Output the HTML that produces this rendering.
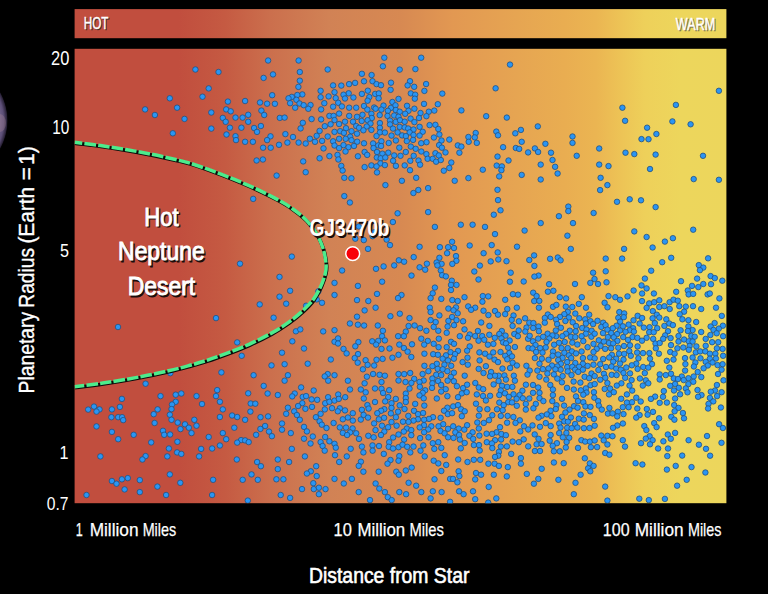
<!DOCTYPE html>
<html><head><meta charset="utf-8"><title>Hot Neptune Desert</title>
<style>
html,body{margin:0;padding:0;background:#000;}
body{width:768px;height:594px;overflow:hidden;font-family:"Liberation Sans",sans-serif;}
svg{display:block;font-family:"Liberation Sans",sans-serif;}
.d circle{fill:#2a95f4;stroke:#23507f;stroke-width:0.8}
</style></head><body>
<svg width="768" height="594" viewBox="0 0 768 594">
<defs>
<linearGradient id="g" x1="0" x2="1" y1="0" y2="0">
<stop offset="0" stop-color="#c14e3e"/>
<stop offset="0.16" stop-color="#c14e3e"/>
<stop offset="0.23" stop-color="#c55a42"/>
<stop offset="0.30" stop-color="#cb6f4d"/>
<stop offset="0.39" stop-color="#d18255"/>
<stop offset="0.50" stop-color="#d78952"/>
<stop offset="0.58" stop-color="#e29852"/>
<stop offset="0.68" stop-color="#e6a552"/>
<stop offset="0.75" stop-color="#e9ad51"/>
<stop offset="0.80" stop-color="#ebb552"/>
<stop offset="0.84" stop-color="#edc456"/>
<stop offset="0.875" stop-color="#eed05a"/>
<stop offset="0.93" stop-color="#edd65c"/>
<stop offset="1" stop-color="#ecd65c"/>
</linearGradient>
<radialGradient id="pl" cx="0.5" cy="0.5" r="0.5">
<stop offset="0" stop-color="#8a7898"/><stop offset="0.84" stop-color="#78698f"/><stop offset="0.93" stop-color="#5c4e76"/><stop offset="0.985" stop-color="#2a2238"/><stop offset="1" stop-color="#08060c"/>
</radialGradient>
<clipPath id="cp"><rect x="74.6" y="48.8" width="651.8" height="454.4"/></clipPath>
</defs>
<rect x="0" y="0" width="768" height="594" fill="#000"/>
<circle cx="-50.3" cy="120.5" r="58" fill="url(#pl)"/><ellipse cx="0" cy="123" rx="6" ry="9" fill="#b08c98" opacity="0.3"/>
<rect x="74.6" y="9.1" width="651.8" height="29.1" fill="url(#g)"/>
<rect x="74.6" y="48.8" width="651.8" height="454.4" fill="url(#g)"/>
<g clip-path="url(#cp)">
<g class="d"><circle cx="195.4" cy="69.5" r="2.75"/><circle cx="202.5" cy="96.7" r="2.75"/><circle cx="169.8" cy="98.3" r="2.75"/><circle cx="177.1" cy="107.7" r="2.75"/><circle cx="145.1" cy="109.4" r="2.75"/><circle cx="154.9" cy="115.0" r="2.75"/><circle cx="184.5" cy="118.9" r="2.75"/><circle cx="172.8" cy="133.3" r="2.75"/><circle cx="268.1" cy="60.5" r="2.75"/><circle cx="298.6" cy="60.5" r="2.75"/><circle cx="327.7" cy="69.5" r="2.75"/><circle cx="218.5" cy="72.0" r="2.75"/><circle cx="299.8" cy="72.0" r="2.75"/><circle cx="273.0" cy="74.4" r="2.75"/><circle cx="263.6" cy="77.9" r="2.75"/><circle cx="299.8" cy="80.7" r="2.75"/><circle cx="333.1" cy="85.4" r="2.75"/><circle cx="298.4" cy="86.9" r="2.75"/><circle cx="208.7" cy="88.4" r="2.75"/><circle cx="320.6" cy="90.8" r="2.75"/><circle cx="334.5" cy="92.2" r="2.75"/><circle cx="272.2" cy="95.2" r="2.75"/><circle cx="302.3" cy="94.4" r="2.75"/><circle cx="297.3" cy="95.0" r="2.75"/><circle cx="291.8" cy="96.9" r="2.75"/><circle cx="288.5" cy="98.3" r="2.75"/><circle cx="328.6" cy="96.4" r="2.75"/><circle cx="320.6" cy="97.2" r="2.75"/><circle cx="296.4" cy="99.8" r="2.75"/><circle cx="245.1" cy="101.0" r="2.75"/><circle cx="227.9" cy="101.6" r="2.75"/><circle cx="260.0" cy="102.5" r="2.75"/><circle cx="267.1" cy="103.7" r="2.75"/><circle cx="274.9" cy="103.8" r="2.75"/><circle cx="290.1" cy="103.2" r="2.75"/><circle cx="299.5" cy="103.5" r="2.75"/><circle cx="303.7" cy="105.2" r="2.75"/><circle cx="310.5" cy="105.0" r="2.75"/><circle cx="324.3" cy="103.2" r="2.75"/><circle cx="333.1" cy="106.7" r="2.75"/><circle cx="295.2" cy="107.7" r="2.75"/><circle cx="308.3" cy="108.8" r="2.75"/><circle cx="321.1" cy="109.4" r="2.75"/><circle cx="226.2" cy="109.4" r="2.75"/><circle cx="230.7" cy="111.3" r="2.75"/><circle cx="261.4" cy="110.6" r="2.75"/><circle cx="211.3" cy="112.5" r="2.75"/><circle cx="264.2" cy="115.0" r="2.75"/><circle cx="248.2" cy="114.8" r="2.75"/><circle cx="329.4" cy="115.9" r="2.75"/><circle cx="333.6" cy="115.9" r="2.75"/><circle cx="222.8" cy="117.9" r="2.75"/><circle cx="235.5" cy="117.6" r="2.75"/><circle cx="242.6" cy="117.6" r="2.75"/><circle cx="279.8" cy="117.9" r="2.75"/><circle cx="284.6" cy="117.6" r="2.75"/><circle cx="311.6" cy="119.1" r="2.75"/><circle cx="321.1" cy="119.4" r="2.75"/><circle cx="334.5" cy="120.1" r="2.75"/><circle cx="225.7" cy="121.8" r="2.75"/><circle cx="248.2" cy="121.8" r="2.75"/><circle cx="302.8" cy="122.8" r="2.75"/><circle cx="330.6" cy="124.3" r="2.75"/><circle cx="260.9" cy="126.0" r="2.75"/><circle cx="324.8" cy="126.2" r="2.75"/><circle cx="211.3" cy="128.6" r="2.75"/><circle cx="229.9" cy="127.7" r="2.75"/><circle cx="241.4" cy="127.7" r="2.75"/><circle cx="254.1" cy="128.0" r="2.75"/><circle cx="300.6" cy="128.4" r="2.75"/><circle cx="319.6" cy="130.9" r="2.75"/><circle cx="257.0" cy="131.9" r="2.75"/><circle cx="334.5" cy="131.9" r="2.75"/><circle cx="226.5" cy="134.5" r="2.75"/><circle cx="285.4" cy="134.1" r="2.75"/><circle cx="235.5" cy="136.2" r="2.75"/><circle cx="270.5" cy="136.3" r="2.75"/><circle cx="293.0" cy="137.0" r="2.75"/><circle cx="316.7" cy="135.8" r="2.75"/><circle cx="327.7" cy="136.5" r="2.75"/><circle cx="309.9" cy="138.7" r="2.75"/><circle cx="236.0" cy="140.1" r="2.75"/><circle cx="267.1" cy="140.1" r="2.75"/><circle cx="245.1" cy="141.8" r="2.75"/><circle cx="252.9" cy="141.8" r="2.75"/><circle cx="287.4" cy="142.6" r="2.75"/><circle cx="298.6" cy="142.6" r="2.75"/><circle cx="305.7" cy="143.5" r="2.75"/><circle cx="315.0" cy="141.8" r="2.75"/><circle cx="322.1" cy="140.9" r="2.75"/><circle cx="333.1" cy="141.3" r="2.75"/><circle cx="279.0" cy="144.8" r="2.75"/><circle cx="334.5" cy="145.5" r="2.75"/><circle cx="263.1" cy="147.7" r="2.75"/><circle cx="270.7" cy="147.7" r="2.75"/><circle cx="323.5" cy="148.4" r="2.75"/><circle cx="384.3" cy="57.7" r="2.75"/><circle cx="382.9" cy="66.3" r="2.75"/><circle cx="399.7" cy="69.6" r="2.75"/><circle cx="361.9" cy="73.8" r="2.75"/><circle cx="371.6" cy="75.0" r="2.75"/><circle cx="364.0" cy="81.3" r="2.75"/><circle cx="372.5" cy="81.2" r="2.75"/><circle cx="376.5" cy="84.1" r="2.75"/><circle cx="381.0" cy="85.2" r="2.75"/><circle cx="391.0" cy="82.7" r="2.75"/><circle cx="355.1" cy="82.9" r="2.75"/><circle cx="349.1" cy="84.1" r="2.75"/><circle cx="341.3" cy="85.6" r="2.75"/><circle cx="390.6" cy="89.8" r="2.75"/><circle cx="367.8" cy="90.7" r="2.75"/><circle cx="348.7" cy="93.3" r="2.75"/><circle cx="343.5" cy="94.7" r="2.75"/><circle cx="361.9" cy="93.9" r="2.75"/><circle cx="375.2" cy="93.9" r="2.75"/><circle cx="378.8" cy="93.4" r="2.75"/><circle cx="353.4" cy="97.5" r="2.75"/><circle cx="369.3" cy="97.1" r="2.75"/><circle cx="335.7" cy="98.1" r="2.75"/><circle cx="378.6" cy="98.3" r="2.75"/><circle cx="345.0" cy="98.5" r="2.75"/><circle cx="398.5" cy="98.9" r="2.75"/><circle cx="421.2" cy="57.7" r="2.75"/><circle cx="415.4" cy="69.1" r="2.75"/><circle cx="410.0" cy="81.2" r="2.75"/><circle cx="407.6" cy="85.4" r="2.75"/><circle cx="414.2" cy="86.8" r="2.75"/><circle cx="426.1" cy="84.0" r="2.75"/><circle cx="424.4" cy="90.9" r="2.75"/><circle cx="442.3" cy="93.6" r="2.75"/><circle cx="410.8" cy="93.4" r="2.75"/><circle cx="415.2" cy="94.7" r="2.75"/><circle cx="414.8" cy="98.7" r="2.75"/><circle cx="367.6" cy="100.7" r="2.75"/><circle cx="392.4" cy="102.0" r="2.75"/><circle cx="338.2" cy="102.8" r="2.75"/><circle cx="341.9" cy="106.4" r="2.75"/><circle cx="349.2" cy="107.7" r="2.75"/><circle cx="356.2" cy="107.7" r="2.75"/><circle cx="364.0" cy="106.0" r="2.75"/><circle cx="367.4" cy="109.6" r="2.75"/><circle cx="374.1" cy="107.5" r="2.75"/><circle cx="375.6" cy="108.7" r="2.75"/><circle cx="383.5" cy="105.6" r="2.75"/><circle cx="381.4" cy="109.6" r="2.75"/><circle cx="390.9" cy="107.9" r="2.75"/><circle cx="395.5" cy="105.3" r="2.75"/><circle cx="387.9" cy="110.8" r="2.75"/><circle cx="395.8" cy="110.0" r="2.75"/><circle cx="399.7" cy="111.7" r="2.75"/><circle cx="339.1" cy="113.6" r="2.75"/><circle cx="349.2" cy="115.9" r="2.75"/><circle cx="357.0" cy="116.8" r="2.75"/><circle cx="362.5" cy="114.8" r="2.75"/><circle cx="371.4" cy="113.8" r="2.75"/><circle cx="371.8" cy="118.0" r="2.75"/><circle cx="379.7" cy="115.1" r="2.75"/><circle cx="387.5" cy="115.9" r="2.75"/><circle cx="394.2" cy="115.5" r="2.75"/><circle cx="398.5" cy="116.8" r="2.75"/><circle cx="345.0" cy="121.7" r="2.75"/><circle cx="339.1" cy="124.0" r="2.75"/><circle cx="353.0" cy="121.7" r="2.75"/><circle cx="361.7" cy="121.0" r="2.75"/><circle cx="367.6" cy="120.2" r="2.75"/><circle cx="370.5" cy="123.5" r="2.75"/><circle cx="379.9" cy="123.1" r="2.75"/><circle cx="390.0" cy="120.6" r="2.75"/><circle cx="395.8" cy="121.9" r="2.75"/><circle cx="390.0" cy="124.4" r="2.75"/><circle cx="399.7" cy="126.9" r="2.75"/><circle cx="356.2" cy="126.1" r="2.75"/><circle cx="359.1" cy="127.8" r="2.75"/><circle cx="366.7" cy="126.5" r="2.75"/><circle cx="363.4" cy="130.3" r="2.75"/><circle cx="371.4" cy="129.9" r="2.75"/><circle cx="379.9" cy="127.8" r="2.75"/><circle cx="379.9" cy="132.4" r="2.75"/><circle cx="384.9" cy="132.6" r="2.75"/><circle cx="393.0" cy="128.6" r="2.75"/><circle cx="397.6" cy="132.4" r="2.75"/><circle cx="346.0" cy="128.2" r="2.75"/><circle cx="340.2" cy="131.2" r="2.75"/><circle cx="351.5" cy="131.2" r="2.75"/><circle cx="343.9" cy="132.9" r="2.75"/><circle cx="357.0" cy="133.7" r="2.75"/><circle cx="350.2" cy="136.7" r="2.75"/><circle cx="339.1" cy="138.8" r="2.75"/><circle cx="345.7" cy="138.8" r="2.75"/><circle cx="351.5" cy="140.2" r="2.75"/><circle cx="357.2" cy="141.7" r="2.75"/><circle cx="376.5" cy="136.1" r="2.75"/><circle cx="391.5" cy="135.6" r="2.75"/><circle cx="395.9" cy="140.5" r="2.75"/><circle cx="381.4" cy="141.3" r="2.75"/><circle cx="364.0" cy="143.3" r="2.75"/><circle cx="373.1" cy="143.4" r="2.75"/><circle cx="388.7" cy="143.0" r="2.75"/><circle cx="343.5" cy="145.1" r="2.75"/><circle cx="339.1" cy="148.1" r="2.75"/><circle cx="348.5" cy="147.2" r="2.75"/><circle cx="354.0" cy="146.0" r="2.75"/><circle cx="378.2" cy="145.4" r="2.75"/><circle cx="381.1" cy="146.0" r="2.75"/><circle cx="373.5" cy="148.1" r="2.75"/><circle cx="399.3" cy="147.7" r="2.75"/><circle cx="424.0" cy="103.9" r="2.75"/><circle cx="437.8" cy="104.2" r="2.75"/><circle cx="407.0" cy="105.8" r="2.75"/><circle cx="414.4" cy="108.7" r="2.75"/><circle cx="461.4" cy="110.4" r="2.75"/><circle cx="408.5" cy="110.8" r="2.75"/><circle cx="405.2" cy="113.8" r="2.75"/><circle cx="434.3" cy="110.6" r="2.75"/><circle cx="428.8" cy="111.7" r="2.75"/><circle cx="420.5" cy="113.0" r="2.75"/><circle cx="426.4" cy="116.2" r="2.75"/><circle cx="419.0" cy="118.0" r="2.75"/><circle cx="410.6" cy="118.6" r="2.75"/><circle cx="400.0" cy="120.2" r="2.75"/><circle cx="404.7" cy="121.7" r="2.75"/><circle cx="414.4" cy="122.1" r="2.75"/><circle cx="429.6" cy="125.1" r="2.75"/><circle cx="435.4" cy="124.8" r="2.75"/><circle cx="419.6" cy="126.8" r="2.75"/><circle cx="404.7" cy="127.4" r="2.75"/><circle cx="408.2" cy="128.5" r="2.75"/><circle cx="413.5" cy="129.5" r="2.75"/><circle cx="438.3" cy="129.0" r="2.75"/><circle cx="422.7" cy="131.8" r="2.75"/><circle cx="409.7" cy="132.4" r="2.75"/><circle cx="413.5" cy="135.0" r="2.75"/><circle cx="419.6" cy="135.6" r="2.75"/><circle cx="402.1" cy="135.4" r="2.75"/><circle cx="405.9" cy="136.1" r="2.75"/><circle cx="439.4" cy="134.5" r="2.75"/><circle cx="433.9" cy="137.5" r="2.75"/><circle cx="413.1" cy="139.9" r="2.75"/><circle cx="406.8" cy="141.1" r="2.75"/><circle cx="441.5" cy="140.5" r="2.75"/><circle cx="449.3" cy="139.6" r="2.75"/><circle cx="426.5" cy="142.2" r="2.75"/><circle cx="421.2" cy="143.2" r="2.75"/><circle cx="439.1" cy="145.1" r="2.75"/><circle cx="457.8" cy="145.4" r="2.75"/><circle cx="461.4" cy="146.6" r="2.75"/><circle cx="410.8" cy="146.6" r="2.75"/><circle cx="441.9" cy="147.7" r="2.75"/><circle cx="415.7" cy="148.8" r="2.75"/><circle cx="510.0" cy="64.6" r="2.75"/><circle cx="495.6" cy="88.3" r="2.75"/><circle cx="486.2" cy="116.2" r="2.75"/><circle cx="506.8" cy="117.6" r="2.75"/><circle cx="537.8" cy="126.4" r="2.75"/><circle cx="520.9" cy="129.9" r="2.75"/><circle cx="515.3" cy="133.3" r="2.75"/><circle cx="496.3" cy="131.6" r="2.75"/><circle cx="498.0" cy="135.3" r="2.75"/><circle cx="475.7" cy="133.0" r="2.75"/><circle cx="468.4" cy="137.0" r="2.75"/><circle cx="474.8" cy="137.4" r="2.75"/><circle cx="468.7" cy="141.8" r="2.75"/><circle cx="476.8" cy="142.9" r="2.75"/><circle cx="521.7" cy="141.8" r="2.75"/><circle cx="545.4" cy="143.8" r="2.75"/><circle cx="572.5" cy="136.5" r="2.75"/><circle cx="572.5" cy="142.9" r="2.75"/><circle cx="503.1" cy="147.2" r="2.75"/><circle cx="515.8" cy="148.0" r="2.75"/><circle cx="519.2" cy="148.9" r="2.75"/><circle cx="534.9" cy="148.4" r="2.75"/><circle cx="718.9" cy="90.8" r="2.75"/><circle cx="675.9" cy="104.9" r="2.75"/><circle cx="622.4" cy="107.7" r="2.75"/><circle cx="625.1" cy="120.8" r="2.75"/><circle cx="672.4" cy="121.4" r="2.75"/><circle cx="690.6" cy="124.3" r="2.75"/><circle cx="647.1" cy="127.7" r="2.75"/><circle cx="656.4" cy="134.0" r="2.75"/><circle cx="641.5" cy="139.1" r="2.75"/><circle cx="648.5" cy="139.2" r="2.75"/><circle cx="599.2" cy="148.5" r="2.75"/><circle cx="329.4" cy="156.1" r="2.75"/><circle cx="319.6" cy="158.3" r="2.75"/><circle cx="262.9" cy="159.5" r="2.75"/><circle cx="256.6" cy="160.5" r="2.75"/><circle cx="303.2" cy="161.4" r="2.75"/><circle cx="305.7" cy="172.2" r="2.75"/><circle cx="276.6" cy="175.6" r="2.75"/><circle cx="253.2" cy="198.9" r="2.75"/><circle cx="118.0" cy="327.0" r="2.75"/><circle cx="291.8" cy="256.6" r="2.75"/><circle cx="240.0" cy="263.7" r="2.75"/><circle cx="279.5" cy="276.9" r="2.75"/><circle cx="290.1" cy="290.8" r="2.75"/><circle cx="279.5" cy="296.7" r="2.75"/><circle cx="259.7" cy="304.4" r="2.75"/><circle cx="286.2" cy="303.7" r="2.75"/><circle cx="216.0" cy="318.1" r="2.75"/><circle cx="273.6" cy="317.7" r="2.75"/><circle cx="322.0" cy="302.8" r="2.75"/><circle cx="318.4" cy="291.3" r="2.75"/><circle cx="316.7" cy="299.4" r="2.75"/><circle cx="306.1" cy="305.7" r="2.75"/><circle cx="334.5" cy="282.9" r="2.75"/><circle cx="334.5" cy="295.0" r="2.75"/><circle cx="295.9" cy="331.3" r="2.75"/><circle cx="300.3" cy="329.4" r="2.75"/><circle cx="323.2" cy="331.4" r="2.75"/><circle cx="334.5" cy="330.2" r="2.75"/><circle cx="292.3" cy="341.3" r="2.75"/><circle cx="237.2" cy="342.4" r="2.75"/><circle cx="304.0" cy="348.5" r="2.75"/><circle cx="334.5" cy="341.8" r="2.75"/><circle cx="337.5" cy="154.9" r="2.75"/><circle cx="338.4" cy="159.5" r="2.75"/><circle cx="345.5" cy="151.5" r="2.75"/><circle cx="357.9" cy="156.3" r="2.75"/><circle cx="364.6" cy="152.0" r="2.75"/><circle cx="367.2" cy="154.9" r="2.75"/><circle cx="377.0" cy="152.0" r="2.75"/><circle cx="382.4" cy="153.7" r="2.75"/><circle cx="388.3" cy="152.7" r="2.75"/><circle cx="376.8" cy="157.5" r="2.75"/><circle cx="380.7" cy="158.3" r="2.75"/><circle cx="385.3" cy="157.5" r="2.75"/><circle cx="394.2" cy="155.4" r="2.75"/><circle cx="400.5" cy="155.8" r="2.75"/><circle cx="405.8" cy="152.0" r="2.75"/><circle cx="393.1" cy="160.8" r="2.75"/><circle cx="380.4" cy="163.4" r="2.75"/><circle cx="384.9" cy="165.1" r="2.75"/><circle cx="371.4" cy="165.4" r="2.75"/><circle cx="376.5" cy="166.4" r="2.75"/><circle cx="364.6" cy="167.1" r="2.75"/><circle cx="395.9" cy="165.9" r="2.75"/><circle cx="404.7" cy="165.4" r="2.75"/><circle cx="410.0" cy="170.2" r="2.75"/><circle cx="410.3" cy="160.8" r="2.75"/><circle cx="413.7" cy="155.8" r="2.75"/><circle cx="418.5" cy="160.5" r="2.75"/><circle cx="420.1" cy="164.7" r="2.75"/><circle cx="421.3" cy="151.5" r="2.75"/><circle cx="426.4" cy="154.1" r="2.75"/><circle cx="427.6" cy="158.8" r="2.75"/><circle cx="432.7" cy="158.8" r="2.75"/><circle cx="436.1" cy="161.7" r="2.75"/><circle cx="440.8" cy="160.0" r="2.75"/><circle cx="435.4" cy="153.2" r="2.75"/><circle cx="438.8" cy="155.4" r="2.75"/><circle cx="445.5" cy="152.4" r="2.75"/><circle cx="459.4" cy="152.7" r="2.75"/><circle cx="451.3" cy="162.5" r="2.75"/><circle cx="449.3" cy="168.0" r="2.75"/><circle cx="443.8" cy="170.7" r="2.75"/><circle cx="341.3" cy="165.9" r="2.75"/><circle cx="342.6" cy="170.5" r="2.75"/><circle cx="377.0" cy="172.4" r="2.75"/><circle cx="344.3" cy="177.8" r="2.75"/><circle cx="351.4" cy="178.3" r="2.75"/><circle cx="416.2" cy="177.8" r="2.75"/><circle cx="401.9" cy="180.8" r="2.75"/><circle cx="454.7" cy="180.8" r="2.75"/><circle cx="385.4" cy="185.1" r="2.75"/><circle cx="428.1" cy="188.1" r="2.75"/><circle cx="418.3" cy="190.0" r="2.75"/><circle cx="413.4" cy="193.0" r="2.75"/><circle cx="344.3" cy="196.1" r="2.75"/><circle cx="349.9" cy="202.5" r="2.75"/><circle cx="397.6" cy="213.3" r="2.75"/><circle cx="428.1" cy="212.1" r="2.75"/><circle cx="392.9" cy="222.0" r="2.75"/><circle cx="434.9" cy="226.9" r="2.75"/><circle cx="460.8" cy="224.7" r="2.75"/><circle cx="358.7" cy="226.5" r="2.75"/><circle cx="374.3" cy="232.3" r="2.75"/><circle cx="355.3" cy="238.7" r="2.75"/><circle cx="363.8" cy="240.1" r="2.75"/><circle cx="372.6" cy="236.2" r="2.75"/><circle cx="386.6" cy="239.6" r="2.75"/><circle cx="390.0" cy="245.1" r="2.75"/><circle cx="368.0" cy="248.9" r="2.75"/><circle cx="419.6" cy="246.8" r="2.75"/><circle cx="439.9" cy="247.2" r="2.75"/><circle cx="448.1" cy="247.2" r="2.75"/><circle cx="452.1" cy="241.8" r="2.75"/><circle cx="454.0" cy="248.0" r="2.75"/><circle cx="528.1" cy="152.4" r="2.75"/><circle cx="538.1" cy="152.0" r="2.75"/><circle cx="551.0" cy="152.7" r="2.75"/><circle cx="576.7" cy="155.8" r="2.75"/><circle cx="497.5" cy="156.6" r="2.75"/><circle cx="508.5" cy="160.5" r="2.75"/><circle cx="552.5" cy="160.0" r="2.75"/><circle cx="540.7" cy="164.6" r="2.75"/><circle cx="496.7" cy="165.6" r="2.75"/><circle cx="501.9" cy="166.4" r="2.75"/><circle cx="501.4" cy="170.2" r="2.75"/><circle cx="555.1" cy="166.8" r="2.75"/><circle cx="482.8" cy="169.7" r="2.75"/><circle cx="557.6" cy="173.5" r="2.75"/><circle cx="521.7" cy="174.9" r="2.75"/><circle cx="499.2" cy="176.4" r="2.75"/><circle cx="468.4" cy="178.1" r="2.75"/><circle cx="540.7" cy="179.5" r="2.75"/><circle cx="497.5" cy="189.8" r="2.75"/><circle cx="498.0" cy="200.1" r="2.75"/><circle cx="500.5" cy="210.3" r="2.75"/><circle cx="493.8" cy="214.7" r="2.75"/><circle cx="568.3" cy="206.6" r="2.75"/><circle cx="568.3" cy="211.1" r="2.75"/><circle cx="558.9" cy="216.2" r="2.75"/><circle cx="593.6" cy="213.0" r="2.75"/><circle cx="472.6" cy="224.7" r="2.75"/><circle cx="485.0" cy="226.9" r="2.75"/><circle cx="540.7" cy="223.1" r="2.75"/><circle cx="573.0" cy="223.1" r="2.75"/><circle cx="524.6" cy="230.6" r="2.75"/><circle cx="495.0" cy="234.1" r="2.75"/><circle cx="567.4" cy="235.7" r="2.75"/><circle cx="469.7" cy="245.5" r="2.75"/><circle cx="491.7" cy="245.1" r="2.75"/><circle cx="517.0" cy="246.7" r="2.75"/><circle cx="570.8" cy="248.9" r="2.75"/><circle cx="625.5" cy="152.7" r="2.75"/><circle cx="634.3" cy="154.1" r="2.75"/><circle cx="655.6" cy="154.6" r="2.75"/><circle cx="703.0" cy="155.8" r="2.75"/><circle cx="599.2" cy="164.6" r="2.75"/><circle cx="608.5" cy="166.1" r="2.75"/><circle cx="650.0" cy="169.0" r="2.75"/><circle cx="600.6" cy="177.8" r="2.75"/><circle cx="693.7" cy="179.1" r="2.75"/><circle cx="718.9" cy="179.8" r="2.75"/><circle cx="607.4" cy="185.1" r="2.75"/><circle cx="600.1" cy="190.1" r="2.75"/><circle cx="629.7" cy="199.3" r="2.75"/><circle cx="617.0" cy="201.8" r="2.75"/><circle cx="641.0" cy="200.3" r="2.75"/><circle cx="655.6" cy="207.1" r="2.75"/><circle cx="634.3" cy="231.4" r="2.75"/><circle cx="693.2" cy="229.7" r="2.75"/><circle cx="646.6" cy="237.0" r="2.75"/><circle cx="672.9" cy="238.2" r="2.75"/><circle cx="664.9" cy="241.6" r="2.75"/><circle cx="652.6" cy="247.5" r="2.75"/><circle cx="624.1" cy="248.9" r="2.75"/><circle cx="447.1" cy="253.2" r="2.75"/><circle cx="456.0" cy="256.1" r="2.75"/><circle cx="413.7" cy="257.1" r="2.75"/><circle cx="439.4" cy="257.8" r="2.75"/><circle cx="398.8" cy="260.3" r="2.75"/><circle cx="404.1" cy="261.7" r="2.75"/><circle cx="456.4" cy="260.8" r="2.75"/><circle cx="452.3" cy="263.9" r="2.75"/><circle cx="436.6" cy="262.5" r="2.75"/><circle cx="441.6" cy="263.9" r="2.75"/><circle cx="437.4" cy="265.4" r="2.75"/><circle cx="426.9" cy="263.7" r="2.75"/><circle cx="394.2" cy="265.4" r="2.75"/><circle cx="383.6" cy="266.4" r="2.75"/><circle cx="376.0" cy="268.8" r="2.75"/><circle cx="419.6" cy="267.3" r="2.75"/><circle cx="425.2" cy="269.7" r="2.75"/><circle cx="342.1" cy="270.5" r="2.75"/><circle cx="440.8" cy="270.5" r="2.75"/><circle cx="442.1" cy="275.2" r="2.75"/><circle cx="445.9" cy="276.4" r="2.75"/><circle cx="411.5" cy="275.6" r="2.75"/><circle cx="451.8" cy="280.7" r="2.75"/><circle cx="382.1" cy="281.7" r="2.75"/><circle cx="357.9" cy="285.9" r="2.75"/><circle cx="451.0" cy="284.9" r="2.75"/><circle cx="456.5" cy="284.9" r="2.75"/><circle cx="434.9" cy="287.6" r="2.75"/><circle cx="451.0" cy="290.0" r="2.75"/><circle cx="377.0" cy="293.9" r="2.75"/><circle cx="432.7" cy="293.3" r="2.75"/><circle cx="401.5" cy="295.0" r="2.75"/><circle cx="398.0" cy="298.1" r="2.75"/><circle cx="430.6" cy="298.1" r="2.75"/><circle cx="441.3" cy="298.9" r="2.75"/><circle cx="452.3" cy="300.1" r="2.75"/><circle cx="457.7" cy="301.0" r="2.75"/><circle cx="464.5" cy="297.2" r="2.75"/><circle cx="357.0" cy="300.1" r="2.75"/><circle cx="368.3" cy="301.0" r="2.75"/><circle cx="375.6" cy="307.7" r="2.75"/><circle cx="429.8" cy="307.7" r="2.75"/><circle cx="448.4" cy="308.6" r="2.75"/><circle cx="456.0" cy="307.4" r="2.75"/><circle cx="453.5" cy="310.3" r="2.75"/><circle cx="364.6" cy="310.4" r="2.75"/><circle cx="430.6" cy="312.1" r="2.75"/><circle cx="457.7" cy="313.3" r="2.75"/><circle cx="399.8" cy="313.7" r="2.75"/><circle cx="439.4" cy="315.4" r="2.75"/><circle cx="390.4" cy="316.2" r="2.75"/><circle cx="357.0" cy="316.7" r="2.75"/><circle cx="452.1" cy="317.0" r="2.75"/><circle cx="409.5" cy="318.1" r="2.75"/><circle cx="430.6" cy="320.1" r="2.75"/><circle cx="435.7" cy="322.1" r="2.75"/><circle cx="448.4" cy="320.9" r="2.75"/><circle cx="456.5" cy="320.1" r="2.75"/><circle cx="463.1" cy="321.3" r="2.75"/><circle cx="349.9" cy="323.5" r="2.75"/><circle cx="357.9" cy="324.7" r="2.75"/><circle cx="364.1" cy="325.5" r="2.75"/><circle cx="377.8" cy="325.5" r="2.75"/><circle cx="408.6" cy="326.0" r="2.75"/><circle cx="414.6" cy="325.5" r="2.75"/><circle cx="420.1" cy="328.2" r="2.75"/><circle cx="433.7" cy="326.9" r="2.75"/><circle cx="447.6" cy="326.5" r="2.75"/><circle cx="454.0" cy="325.2" r="2.75"/><circle cx="382.9" cy="330.8" r="2.75"/><circle cx="426.4" cy="330.8" r="2.75"/><circle cx="438.3" cy="330.8" r="2.75"/><circle cx="405.8" cy="331.6" r="2.75"/><circle cx="446.7" cy="332.8" r="2.75"/><circle cx="464.5" cy="329.4" r="2.75"/><circle cx="382.1" cy="336.2" r="2.75"/><circle cx="398.1" cy="336.2" r="2.75"/><circle cx="403.9" cy="336.2" r="2.75"/><circle cx="459.8" cy="336.2" r="2.75"/><circle cx="338.0" cy="338.4" r="2.75"/><circle cx="421.3" cy="338.7" r="2.75"/><circle cx="438.8" cy="338.7" r="2.75"/><circle cx="372.2" cy="341.3" r="2.75"/><circle cx="378.2" cy="340.9" r="2.75"/><circle cx="384.9" cy="340.4" r="2.75"/><circle cx="358.4" cy="342.1" r="2.75"/><circle cx="427.8" cy="340.9" r="2.75"/><circle cx="451.0" cy="341.8" r="2.75"/><circle cx="338.0" cy="343.5" r="2.75"/><circle cx="376.1" cy="344.6" r="2.75"/><circle cx="399.3" cy="344.6" r="2.75"/><circle cx="412.0" cy="344.3" r="2.75"/><circle cx="424.2" cy="344.6" r="2.75"/><circle cx="433.7" cy="343.8" r="2.75"/><circle cx="355.3" cy="346.3" r="2.75"/><circle cx="454.0" cy="343.8" r="2.75"/><circle cx="438.6" cy="347.2" r="2.75"/><circle cx="446.7" cy="347.2" r="2.75"/><circle cx="403.9" cy="348.0" r="2.75"/><circle cx="381.5" cy="348.9" r="2.75"/><circle cx="389.5" cy="348.5" r="2.75"/><circle cx="343.5" cy="348.9" r="2.75"/><circle cx="483.6" cy="253.2" r="2.75"/><circle cx="497.7" cy="252.4" r="2.75"/><circle cx="534.1" cy="255.4" r="2.75"/><circle cx="498.3" cy="259.5" r="2.75"/><circle cx="490.7" cy="261.4" r="2.75"/><circle cx="506.5" cy="261.2" r="2.75"/><circle cx="529.3" cy="260.0" r="2.75"/><circle cx="550.1" cy="258.8" r="2.75"/><circle cx="557.8" cy="257.5" r="2.75"/><circle cx="560.6" cy="260.3" r="2.75"/><circle cx="479.9" cy="265.6" r="2.75"/><circle cx="534.4" cy="265.9" r="2.75"/><circle cx="474.3" cy="271.5" r="2.75"/><circle cx="510.7" cy="272.7" r="2.75"/><circle cx="593.1" cy="272.7" r="2.75"/><circle cx="538.6" cy="275.6" r="2.75"/><circle cx="534.4" cy="276.6" r="2.75"/><circle cx="478.5" cy="279.5" r="2.75"/><circle cx="509.9" cy="281.7" r="2.75"/><circle cx="523.7" cy="281.5" r="2.75"/><circle cx="594.5" cy="279.0" r="2.75"/><circle cx="549.1" cy="284.2" r="2.75"/><circle cx="575.0" cy="284.0" r="2.75"/><circle cx="590.3" cy="282.9" r="2.75"/><circle cx="547.9" cy="291.7" r="2.75"/><circle cx="553.4" cy="290.8" r="2.75"/><circle cx="533.2" cy="292.7" r="2.75"/><circle cx="512.9" cy="294.2" r="2.75"/><circle cx="518.0" cy="294.7" r="2.75"/><circle cx="536.6" cy="296.1" r="2.75"/><circle cx="482.8" cy="296.1" r="2.75"/><circle cx="488.2" cy="296.4" r="2.75"/><circle cx="559.8" cy="297.2" r="2.75"/><circle cx="566.1" cy="298.4" r="2.75"/><circle cx="581.8" cy="297.2" r="2.75"/><circle cx="482.4" cy="301.7" r="2.75"/><circle cx="505.2" cy="299.8" r="2.75"/><circle cx="468.2" cy="306.4" r="2.75"/><circle cx="475.2" cy="307.7" r="2.75"/><circle cx="471.1" cy="309.8" r="2.75"/><circle cx="516.8" cy="307.7" r="2.75"/><circle cx="507.3" cy="309.0" r="2.75"/><circle cx="483.5" cy="310.7" r="2.75"/><circle cx="495.0" cy="311.0" r="2.75"/><circle cx="505.2" cy="314.1" r="2.75"/><circle cx="498.0" cy="314.7" r="2.75"/><circle cx="488.4" cy="315.1" r="2.75"/><circle cx="513.5" cy="315.5" r="2.75"/><circle cx="525.1" cy="318.3" r="2.75"/><circle cx="511.7" cy="319.9" r="2.75"/><circle cx="518.9" cy="321.3" r="2.75"/><circle cx="481.2" cy="322.5" r="2.75"/><circle cx="529.3" cy="322.7" r="2.75"/><circle cx="489.4" cy="325.9" r="2.75"/><circle cx="512.6" cy="325.9" r="2.75"/><circle cx="526.5" cy="327.6" r="2.75"/><circle cx="477.9" cy="331.0" r="2.75"/><circle cx="518.7" cy="330.5" r="2.75"/><circle cx="501.8" cy="331.0" r="2.75"/><circle cx="525.3" cy="331.6" r="2.75"/><circle cx="499.3" cy="334.0" r="2.75"/><circle cx="514.3" cy="334.0" r="2.75"/><circle cx="469.7" cy="334.5" r="2.75"/><circle cx="489.3" cy="334.8" r="2.75"/><circle cx="505.5" cy="335.6" r="2.75"/><circle cx="475.2" cy="336.1" r="2.75"/><circle cx="482.2" cy="336.1" r="2.75"/><circle cx="517.9" cy="336.2" r="2.75"/><circle cx="468.0" cy="337.8" r="2.75"/><circle cx="494.8" cy="337.8" r="2.75"/><circle cx="501.4" cy="338.4" r="2.75"/><circle cx="528.1" cy="338.8" r="2.75"/><circle cx="478.5" cy="340.7" r="2.75"/><circle cx="484.3" cy="339.8" r="2.75"/><circle cx="509.6" cy="340.5" r="2.75"/><circle cx="503.1" cy="342.4" r="2.75"/><circle cx="506.0" cy="343.4" r="2.75"/><circle cx="493.4" cy="343.9" r="2.75"/><circle cx="487.9" cy="344.7" r="2.75"/><circle cx="469.7" cy="346.4" r="2.75"/><circle cx="514.9" cy="347.0" r="2.75"/><circle cx="508.2" cy="347.7" r="2.75"/><circle cx="528.5" cy="348.1" r="2.75"/><circle cx="529.7" cy="335.8" r="2.75"/><circle cx="534.2" cy="301.1" r="2.75"/><circle cx="539.3" cy="300.9" r="2.75"/><circle cx="538.9" cy="307.7" r="2.75"/><circle cx="553.0" cy="306.8" r="2.75"/><circle cx="556.4" cy="304.9" r="2.75"/><circle cx="565.8" cy="306.6" r="2.75"/><circle cx="572.3" cy="307.0" r="2.75"/><circle cx="578.8" cy="303.9" r="2.75"/><circle cx="586.0" cy="307.7" r="2.75"/><circle cx="547.8" cy="314.5" r="2.75"/><circle cx="567.8" cy="311.9" r="2.75"/><circle cx="564.3" cy="314.2" r="2.75"/><circle cx="575.3" cy="313.6" r="2.75"/><circle cx="589.2" cy="314.7" r="2.75"/><circle cx="544.8" cy="318.0" r="2.75"/><circle cx="550.7" cy="317.0" r="2.75"/><circle cx="560.0" cy="316.9" r="2.75"/><circle cx="568.9" cy="317.5" r="2.75"/><circle cx="556.1" cy="319.7" r="2.75"/><circle cx="579.3" cy="318.3" r="2.75"/><circle cx="585.2" cy="319.3" r="2.75"/><circle cx="565.4" cy="321.0" r="2.75"/><circle cx="590.5" cy="321.2" r="2.75"/><circle cx="544.8" cy="322.7" r="2.75"/><circle cx="572.7" cy="322.3" r="2.75"/><circle cx="585.9" cy="323.5" r="2.75"/><circle cx="593.1" cy="324.1" r="2.75"/><circle cx="533.4" cy="323.1" r="2.75"/><circle cx="557.1" cy="324.1" r="2.75"/><circle cx="538.5" cy="326.5" r="2.75"/><circle cx="576.1" cy="326.1" r="2.75"/><circle cx="533.2" cy="328.0" r="2.75"/><circle cx="560.9" cy="327.8" r="2.75"/><circle cx="582.2" cy="328.0" r="2.75"/><circle cx="586.5" cy="329.5" r="2.75"/><circle cx="538.9" cy="331.2" r="2.75"/><circle cx="555.8" cy="330.5" r="2.75"/><circle cx="569.8" cy="330.7" r="2.75"/><circle cx="575.7" cy="331.3" r="2.75"/><circle cx="591.6" cy="330.7" r="2.75"/><circle cx="547.6" cy="333.7" r="2.75"/><circle cx="566.0" cy="333.7" r="2.75"/><circle cx="585.9" cy="333.7" r="2.75"/><circle cx="543.1" cy="336.8" r="2.75"/><circle cx="556.2" cy="336.2" r="2.75"/><circle cx="562.4" cy="336.2" r="2.75"/><circle cx="552.4" cy="335.4" r="2.75"/><circle cx="571.0" cy="336.8" r="2.75"/><circle cx="575.3" cy="337.1" r="2.75"/><circle cx="581.6" cy="336.2" r="2.75"/><circle cx="591.4" cy="336.7" r="2.75"/><circle cx="594.7" cy="333.7" r="2.75"/><circle cx="538.2" cy="338.6" r="2.75"/><circle cx="549.3" cy="338.6" r="2.75"/><circle cx="583.3" cy="341.1" r="2.75"/><circle cx="533.0" cy="341.3" r="2.75"/><circle cx="546.5" cy="342.0" r="2.75"/><circle cx="564.7" cy="342.0" r="2.75"/><circle cx="559.0" cy="342.8" r="2.75"/><circle cx="572.3" cy="342.6" r="2.75"/><circle cx="554.1" cy="344.7" r="2.75"/><circle cx="535.5" cy="345.0" r="2.75"/><circle cx="577.4" cy="344.5" r="2.75"/><circle cx="593.5" cy="343.9" r="2.75"/><circle cx="587.6" cy="347.2" r="2.75"/><circle cx="545.7" cy="347.5" r="2.75"/><circle cx="540.2" cy="348.1" r="2.75"/><circle cx="561.5" cy="348.1" r="2.75"/><circle cx="567.7" cy="348.1" r="2.75"/><circle cx="532.5" cy="348.5" r="2.75"/><circle cx="605.7" cy="258.6" r="2.75"/><circle cx="622.1" cy="258.6" r="2.75"/><circle cx="671.2" cy="257.8" r="2.75"/><circle cx="708.1" cy="258.3" r="2.75"/><circle cx="662.2" cy="262.2" r="2.75"/><circle cx="698.8" cy="265.1" r="2.75"/><circle cx="703.3" cy="267.6" r="2.75"/><circle cx="699.9" cy="270.2" r="2.75"/><circle cx="605.7" cy="271.3" r="2.75"/><circle cx="651.2" cy="270.7" r="2.75"/><circle cx="710.6" cy="276.1" r="2.75"/><circle cx="714.8" cy="278.1" r="2.75"/><circle cx="644.9" cy="278.6" r="2.75"/><circle cx="697.1" cy="278.6" r="2.75"/><circle cx="722.3" cy="280.7" r="2.75"/><circle cx="681.0" cy="281.2" r="2.75"/><circle cx="606.5" cy="282.3" r="2.75"/><circle cx="598.0" cy="284.0" r="2.75"/><circle cx="703.3" cy="284.0" r="2.75"/><circle cx="711.0" cy="284.2" r="2.75"/><circle cx="641.5" cy="285.4" r="2.75"/><circle cx="692.0" cy="285.9" r="2.75"/><circle cx="698.3" cy="287.1" r="2.75"/><circle cx="646.6" cy="288.4" r="2.75"/><circle cx="633.6" cy="290.5" r="2.75"/><circle cx="687.8" cy="290.5" r="2.75"/><circle cx="676.2" cy="291.8" r="2.75"/><circle cx="642.1" cy="293.5" r="2.75"/><circle cx="653.9" cy="293.5" r="2.75"/><circle cx="688.6" cy="294.4" r="2.75"/><circle cx="693.2" cy="293.9" r="2.75"/><circle cx="707.6" cy="294.4" r="2.75"/><circle cx="709.8" cy="293.5" r="2.75"/><circle cx="608.5" cy="296.1" r="2.75"/><circle cx="615.3" cy="297.2" r="2.75"/><circle cx="627.5" cy="296.4" r="2.75"/><circle cx="719.4" cy="298.4" r="2.75"/><circle cx="604.6" cy="302.8" r="2.75"/><circle cx="607.5" cy="307.3" r="2.75"/><circle cx="620.0" cy="299.8" r="2.75"/><circle cx="642.0" cy="301.1" r="2.75"/><circle cx="649.2" cy="303.4" r="2.75"/><circle cx="654.2" cy="302.2" r="2.75"/><circle cx="659.3" cy="300.3" r="2.75"/><circle cx="646.6" cy="307.9" r="2.75"/><circle cx="659.3" cy="307.0" r="2.75"/><circle cx="619.3" cy="312.1" r="2.75"/><circle cx="624.2" cy="313.4" r="2.75"/><circle cx="652.8" cy="311.1" r="2.75"/><circle cx="656.8" cy="314.7" r="2.75"/><circle cx="637.6" cy="315.8" r="2.75"/><circle cx="618.3" cy="317.8" r="2.75"/><circle cx="623.8" cy="317.2" r="2.75"/><circle cx="642.1" cy="318.0" r="2.75"/><circle cx="652.6" cy="318.3" r="2.75"/><circle cx="659.3" cy="317.6" r="2.75"/><circle cx="633.5" cy="320.3" r="2.75"/><circle cx="597.5" cy="320.8" r="2.75"/><circle cx="603.2" cy="322.7" r="2.75"/><circle cx="620.1" cy="321.7" r="2.75"/><circle cx="639.6" cy="323.5" r="2.75"/><circle cx="654.8" cy="323.1" r="2.75"/><circle cx="628.6" cy="324.6" r="2.75"/><circle cx="616.6" cy="325.7" r="2.75"/><circle cx="622.9" cy="326.3" r="2.75"/><circle cx="601.3" cy="326.9" r="2.75"/><circle cx="605.6" cy="325.2" r="2.75"/><circle cx="612.8" cy="328.2" r="2.75"/><circle cx="633.1" cy="328.2" r="2.75"/><circle cx="643.8" cy="327.6" r="2.75"/><circle cx="649.6" cy="327.2" r="2.75"/><circle cx="657.2" cy="328.2" r="2.75"/><circle cx="607.4" cy="329.6" r="2.75"/><circle cx="620.0" cy="330.5" r="2.75"/><circle cx="629.7" cy="330.3" r="2.75"/><circle cx="625.5" cy="331.8" r="2.75"/><circle cx="633.9" cy="331.6" r="2.75"/><circle cx="649.2" cy="332.2" r="2.75"/><circle cx="653.7" cy="332.2" r="2.75"/><circle cx="603.0" cy="333.1" r="2.75"/><circle cx="611.2" cy="333.1" r="2.75"/><circle cx="617.0" cy="334.1" r="2.75"/><circle cx="607.9" cy="337.1" r="2.75"/><circle cx="613.8" cy="337.3" r="2.75"/><circle cx="623.2" cy="337.1" r="2.75"/><circle cx="632.5" cy="337.1" r="2.75"/><circle cx="637.3" cy="337.9" r="2.75"/><circle cx="646.6" cy="337.8" r="2.75"/><circle cx="653.2" cy="338.9" r="2.75"/><circle cx="628.0" cy="339.9" r="2.75"/><circle cx="598.8" cy="340.3" r="2.75"/><circle cx="642.0" cy="340.7" r="2.75"/><circle cx="617.4" cy="340.9" r="2.75"/><circle cx="603.9" cy="341.6" r="2.75"/><circle cx="609.0" cy="343.0" r="2.75"/><circle cx="613.2" cy="343.4" r="2.75"/><circle cx="655.5" cy="343.6" r="2.75"/><circle cx="659.7" cy="343.0" r="2.75"/><circle cx="600.5" cy="346.0" r="2.75"/><circle cx="624.0" cy="346.0" r="2.75"/><circle cx="630.0" cy="345.3" r="2.75"/><circle cx="637.6" cy="346.4" r="2.75"/><circle cx="618.3" cy="347.7" r="2.75"/><circle cx="611.1" cy="348.3" r="2.75"/><circle cx="655.8" cy="348.3" r="2.75"/><circle cx="596.7" cy="348.9" r="2.75"/><circle cx="605.2" cy="348.9" r="2.75"/><circle cx="669.6" cy="302.2" r="2.75"/><circle cx="673.5" cy="299.7" r="2.75"/><circle cx="677.8" cy="300.7" r="2.75"/><circle cx="664.4" cy="306.2" r="2.75"/><circle cx="669.7" cy="309.0" r="2.75"/><circle cx="679.3" cy="306.2" r="2.75"/><circle cx="685.8" cy="306.6" r="2.75"/><circle cx="693.0" cy="306.2" r="2.75"/><circle cx="701.2" cy="309.0" r="2.75"/><circle cx="716.0" cy="307.7" r="2.75"/><circle cx="684.1" cy="311.7" r="2.75"/><circle cx="679.7" cy="314.2" r="2.75"/><circle cx="721.8" cy="315.9" r="2.75"/><circle cx="666.3" cy="319.3" r="2.75"/><circle cx="682.4" cy="319.3" r="2.75"/><circle cx="688.4" cy="320.2" r="2.75"/><circle cx="696.2" cy="322.0" r="2.75"/><circle cx="714.6" cy="323.1" r="2.75"/><circle cx="669.3" cy="323.5" r="2.75"/><circle cx="664.4" cy="325.9" r="2.75"/><circle cx="672.9" cy="325.1" r="2.75"/><circle cx="710.6" cy="326.5" r="2.75"/><circle cx="722.9" cy="325.7" r="2.75"/><circle cx="688.4" cy="326.5" r="2.75"/><circle cx="718.8" cy="328.6" r="2.75"/><circle cx="713.5" cy="329.9" r="2.75"/><circle cx="680.6" cy="330.3" r="2.75"/><circle cx="692.6" cy="330.1" r="2.75"/><circle cx="687.9" cy="331.0" r="2.75"/><circle cx="668.0" cy="331.2" r="2.75"/><circle cx="701.2" cy="332.0" r="2.75"/><circle cx="716.7" cy="333.3" r="2.75"/><circle cx="710.4" cy="335.0" r="2.75"/><circle cx="665.1" cy="335.4" r="2.75"/><circle cx="723.1" cy="336.2" r="2.75"/><circle cx="678.5" cy="336.0" r="2.75"/><circle cx="691.3" cy="336.0" r="2.75"/><circle cx="694.7" cy="336.7" r="2.75"/><circle cx="670.6" cy="338.1" r="2.75"/><circle cx="663.2" cy="338.8" r="2.75"/><circle cx="705.7" cy="338.9" r="2.75"/><circle cx="684.1" cy="339.5" r="2.75"/><circle cx="678.5" cy="341.6" r="2.75"/><circle cx="688.8" cy="341.3" r="2.75"/><circle cx="692.6" cy="341.6" r="2.75"/><circle cx="712.1" cy="342.2" r="2.75"/><circle cx="718.2" cy="342.2" r="2.75"/><circle cx="671.0" cy="345.1" r="2.75"/><circle cx="696.4" cy="346.4" r="2.75"/><circle cx="689.6" cy="346.0" r="2.75"/><circle cx="705.7" cy="345.8" r="2.75"/><circle cx="683.3" cy="347.5" r="2.75"/><circle cx="677.4" cy="348.3" r="2.75"/><circle cx="716.9" cy="348.3" r="2.75"/><circle cx="722.6" cy="348.9" r="2.75"/><circle cx="170.3" cy="373.2" r="2.75"/><circle cx="145.6" cy="383.7" r="2.75"/><circle cx="160.5" cy="396.1" r="2.75"/><circle cx="175.7" cy="394.7" r="2.75"/><circle cx="181.3" cy="393.5" r="2.75"/><circle cx="196.5" cy="396.1" r="2.75"/><circle cx="121.9" cy="398.9" r="2.75"/><circle cx="175.7" cy="401.8" r="2.75"/><circle cx="202.0" cy="404.0" r="2.75"/><circle cx="172.0" cy="404.5" r="2.75"/><circle cx="94.0" cy="406.6" r="2.75"/><circle cx="119.9" cy="406.9" r="2.75"/><circle cx="88.2" cy="409.6" r="2.75"/><circle cx="99.5" cy="409.4" r="2.75"/><circle cx="96.5" cy="411.6" r="2.75"/><circle cx="111.9" cy="409.4" r="2.75"/><circle cx="157.6" cy="409.4" r="2.75"/><circle cx="171.5" cy="409.1" r="2.75"/><circle cx="153.7" cy="414.2" r="2.75"/><circle cx="169.8" cy="414.7" r="2.75"/><circle cx="111.4" cy="417.2" r="2.75"/><circle cx="118.2" cy="417.2" r="2.75"/><circle cx="122.1" cy="417.2" r="2.75"/><circle cx="123.2" cy="420.1" r="2.75"/><circle cx="171.5" cy="419.8" r="2.75"/><circle cx="194.3" cy="419.8" r="2.75"/><circle cx="154.6" cy="423.0" r="2.75"/><circle cx="177.7" cy="422.6" r="2.75"/><circle cx="185.0" cy="424.3" r="2.75"/><circle cx="196.5" cy="425.7" r="2.75"/><circle cx="96.5" cy="426.4" r="2.75"/><circle cx="188.8" cy="427.7" r="2.75"/><circle cx="180.5" cy="429.1" r="2.75"/><circle cx="163.0" cy="430.8" r="2.75"/><circle cx="111.9" cy="431.9" r="2.75"/><circle cx="191.5" cy="433.1" r="2.75"/><circle cx="164.2" cy="434.8" r="2.75"/><circle cx="170.1" cy="434.5" r="2.75"/><circle cx="133.7" cy="434.8" r="2.75"/><circle cx="118.2" cy="439.2" r="2.75"/><circle cx="151.2" cy="442.4" r="2.75"/><circle cx="177.4" cy="441.8" r="2.75"/><circle cx="168.9" cy="448.5" r="2.75"/><circle cx="201.1" cy="448.9" r="2.75"/><circle cx="282.0" cy="352.7" r="2.75"/><circle cx="241.7" cy="355.8" r="2.75"/><circle cx="330.8" cy="359.5" r="2.75"/><circle cx="284.6" cy="364.2" r="2.75"/><circle cx="271.5" cy="365.4" r="2.75"/><circle cx="307.7" cy="363.7" r="2.75"/><circle cx="221.4" cy="372.4" r="2.75"/><circle cx="253.6" cy="375.2" r="2.75"/><circle cx="287.9" cy="375.2" r="2.75"/><circle cx="327.7" cy="374.1" r="2.75"/><circle cx="324.7" cy="376.4" r="2.75"/><circle cx="284.6" cy="380.7" r="2.75"/><circle cx="328.2" cy="380.7" r="2.75"/><circle cx="334.5" cy="375.2" r="2.75"/><circle cx="263.7" cy="385.9" r="2.75"/><circle cx="301.1" cy="387.4" r="2.75"/><circle cx="217.2" cy="390.1" r="2.75"/><circle cx="313.7" cy="390.5" r="2.75"/><circle cx="248.2" cy="393.3" r="2.75"/><circle cx="267.6" cy="393.5" r="2.75"/><circle cx="277.8" cy="395.0" r="2.75"/><circle cx="294.7" cy="393.5" r="2.75"/><circle cx="292.2" cy="396.4" r="2.75"/><circle cx="216.0" cy="396.1" r="2.75"/><circle cx="302.7" cy="396.9" r="2.75"/><circle cx="306.1" cy="396.1" r="2.75"/><circle cx="328.1" cy="397.2" r="2.75"/><circle cx="311.6" cy="399.4" r="2.75"/><circle cx="317.2" cy="399.8" r="2.75"/><circle cx="219.9" cy="401.8" r="2.75"/><circle cx="250.7" cy="403.5" r="2.75"/><circle cx="255.3" cy="403.7" r="2.75"/><circle cx="302.3" cy="403.2" r="2.75"/><circle cx="325.2" cy="403.2" r="2.75"/><circle cx="329.4" cy="401.8" r="2.75"/><circle cx="334.5" cy="400.6" r="2.75"/><circle cx="298.1" cy="406.0" r="2.75"/><circle cx="287.9" cy="407.7" r="2.75"/><circle cx="312.0" cy="406.9" r="2.75"/><circle cx="305.4" cy="408.8" r="2.75"/><circle cx="332.0" cy="408.2" r="2.75"/><circle cx="324.8" cy="409.4" r="2.75"/><circle cx="222.8" cy="409.4" r="2.75"/><circle cx="250.4" cy="411.6" r="2.75"/><circle cx="294.2" cy="411.3" r="2.75"/><circle cx="286.2" cy="413.8" r="2.75"/><circle cx="320.6" cy="413.8" r="2.75"/><circle cx="296.9" cy="415.0" r="2.75"/><circle cx="219.9" cy="417.0" r="2.75"/><circle cx="232.1" cy="415.5" r="2.75"/><circle cx="237.2" cy="417.0" r="2.75"/><circle cx="260.5" cy="417.2" r="2.75"/><circle cx="268.1" cy="416.4" r="2.75"/><circle cx="315.9" cy="417.2" r="2.75"/><circle cx="245.1" cy="419.8" r="2.75"/><circle cx="299.8" cy="419.8" r="2.75"/><circle cx="319.6" cy="421.3" r="2.75"/><circle cx="282.0" cy="423.5" r="2.75"/><circle cx="321.8" cy="424.7" r="2.75"/><circle cx="333.6" cy="423.0" r="2.75"/><circle cx="234.3" cy="427.7" r="2.75"/><circle cx="265.1" cy="426.0" r="2.75"/><circle cx="260.4" cy="428.9" r="2.75"/><circle cx="304.0" cy="426.9" r="2.75"/><circle cx="326.5" cy="428.0" r="2.75"/><circle cx="282.0" cy="429.7" r="2.75"/><circle cx="269.0" cy="431.6" r="2.75"/><circle cx="306.9" cy="431.4" r="2.75"/><circle cx="222.8" cy="433.1" r="2.75"/><circle cx="290.8" cy="433.1" r="2.75"/><circle cx="256.1" cy="434.8" r="2.75"/><circle cx="271.9" cy="436.2" r="2.75"/><circle cx="312.8" cy="436.5" r="2.75"/><circle cx="208.7" cy="437.0" r="2.75"/><circle cx="325.2" cy="437.0" r="2.75"/><circle cx="226.2" cy="439.2" r="2.75"/><circle cx="304.0" cy="438.7" r="2.75"/><circle cx="241.1" cy="440.1" r="2.75"/><circle cx="245.1" cy="440.4" r="2.75"/><circle cx="329.4" cy="441.3" r="2.75"/><circle cx="237.2" cy="442.6" r="2.75"/><circle cx="248.7" cy="442.1" r="2.75"/><circle cx="320.6" cy="442.1" r="2.75"/><circle cx="310.5" cy="443.5" r="2.75"/><circle cx="219.9" cy="445.5" r="2.75"/><circle cx="334.5" cy="443.8" r="2.75"/><circle cx="322.6" cy="446.0" r="2.75"/><circle cx="212.1" cy="448.5" r="2.75"/><circle cx="291.8" cy="448.9" r="2.75"/><circle cx="346.6" cy="353.4" r="2.75"/><circle cx="358.0" cy="354.1" r="2.75"/><circle cx="398.5" cy="354.8" r="2.75"/><circle cx="354.7" cy="358.1" r="2.75"/><circle cx="392.4" cy="357.7" r="2.75"/><circle cx="382.6" cy="358.9" r="2.75"/><circle cx="376.5" cy="359.8" r="2.75"/><circle cx="365.6" cy="360.2" r="2.75"/><circle cx="357.7" cy="362.7" r="2.75"/><circle cx="367.6" cy="364.9" r="2.75"/><circle cx="374.2" cy="365.5" r="2.75"/><circle cx="362.9" cy="369.3" r="2.75"/><circle cx="373.1" cy="374.0" r="2.75"/><circle cx="379.6" cy="374.8" r="2.75"/><circle cx="384.9" cy="375.7" r="2.75"/><circle cx="398.5" cy="374.0" r="2.75"/><circle cx="366.9" cy="376.7" r="2.75"/><circle cx="347.9" cy="380.7" r="2.75"/><circle cx="398.5" cy="380.5" r="2.75"/><circle cx="381.5" cy="382.0" r="2.75"/><circle cx="364.6" cy="383.3" r="2.75"/><circle cx="350.0" cy="389.5" r="2.75"/><circle cx="360.8" cy="389.5" r="2.75"/><circle cx="375.0" cy="388.5" r="2.75"/><circle cx="381.5" cy="388.8" r="2.75"/><circle cx="389.2" cy="390.2" r="2.75"/><circle cx="365.7" cy="392.3" r="2.75"/><circle cx="383.1" cy="393.0" r="2.75"/><circle cx="338.2" cy="394.5" r="2.75"/><circle cx="345.2" cy="397.2" r="2.75"/><circle cx="388.2" cy="397.1" r="2.75"/><circle cx="363.8" cy="398.5" r="2.75"/><circle cx="338.8" cy="398.9" r="2.75"/><circle cx="395.8" cy="398.9" r="2.75"/><circle cx="407.6" cy="351.7" r="2.75"/><circle cx="411.3" cy="357.0" r="2.75"/><circle cx="424.4" cy="353.7" r="2.75"/><circle cx="433.2" cy="354.2" r="2.75"/><circle cx="437.9" cy="354.8" r="2.75"/><circle cx="450.6" cy="352.2" r="2.75"/><circle cx="458.0" cy="350.9" r="2.75"/><circle cx="455.0" cy="354.1" r="2.75"/><circle cx="446.0" cy="355.3" r="2.75"/><circle cx="442.6" cy="358.7" r="2.75"/><circle cx="448.0" cy="360.4" r="2.75"/><circle cx="453.9" cy="358.7" r="2.75"/><circle cx="462.6" cy="362.1" r="2.75"/><circle cx="436.8" cy="363.8" r="2.75"/><circle cx="444.4" cy="364.7" r="2.75"/><circle cx="451.2" cy="365.8" r="2.75"/><circle cx="424.4" cy="365.8" r="2.75"/><circle cx="432.4" cy="366.2" r="2.75"/><circle cx="437.7" cy="368.9" r="2.75"/><circle cx="442.7" cy="369.3" r="2.75"/><circle cx="447.4" cy="371.2" r="2.75"/><circle cx="428.4" cy="371.2" r="2.75"/><circle cx="453.9" cy="372.7" r="2.75"/><circle cx="410.2" cy="373.0" r="2.75"/><circle cx="404.2" cy="374.1" r="2.75"/><circle cx="422.6" cy="374.0" r="2.75"/><circle cx="436.2" cy="374.8" r="2.75"/><circle cx="441.2" cy="375.1" r="2.75"/><circle cx="464.7" cy="375.7" r="2.75"/><circle cx="450.8" cy="376.9" r="2.75"/><circle cx="432.4" cy="378.5" r="2.75"/><circle cx="414.2" cy="378.9" r="2.75"/><circle cx="423.7" cy="380.5" r="2.75"/><circle cx="438.1" cy="381.0" r="2.75"/><circle cx="447.6" cy="380.7" r="2.75"/><circle cx="453.9" cy="381.2" r="2.75"/><circle cx="405.5" cy="382.0" r="2.75"/><circle cx="411.4" cy="382.9" r="2.75"/><circle cx="419.5" cy="382.0" r="2.75"/><circle cx="432.4" cy="383.3" r="2.75"/><circle cx="441.2" cy="385.0" r="2.75"/><circle cx="456.9" cy="386.2" r="2.75"/><circle cx="419.9" cy="386.8" r="2.75"/><circle cx="432.0" cy="387.9" r="2.75"/><circle cx="409.5" cy="388.6" r="2.75"/><circle cx="445.7" cy="389.2" r="2.75"/><circle cx="463.1" cy="388.1" r="2.75"/><circle cx="425.2" cy="390.3" r="2.75"/><circle cx="441.2" cy="391.5" r="2.75"/><circle cx="422.7" cy="392.8" r="2.75"/><circle cx="405.8" cy="393.6" r="2.75"/><circle cx="461.8" cy="393.4" r="2.75"/><circle cx="419.5" cy="395.4" r="2.75"/><circle cx="447.4" cy="396.2" r="2.75"/><circle cx="458.0" cy="397.2" r="2.75"/><circle cx="405.8" cy="398.1" r="2.75"/><circle cx="423.7" cy="398.3" r="2.75"/><circle cx="436.8" cy="398.5" r="2.75"/><circle cx="375.0" cy="402.0" r="2.75"/><circle cx="385.2" cy="401.4" r="2.75"/><circle cx="391.5" cy="403.2" r="2.75"/><circle cx="399.7" cy="405.3" r="2.75"/><circle cx="367.4" cy="405.1" r="2.75"/><circle cx="368.6" cy="408.6" r="2.75"/><circle cx="391.5" cy="407.9" r="2.75"/><circle cx="339.8" cy="408.3" r="2.75"/><circle cx="337.8" cy="411.3" r="2.75"/><circle cx="345.0" cy="410.4" r="2.75"/><circle cx="361.9" cy="409.8" r="2.75"/><circle cx="384.3" cy="409.2" r="2.75"/><circle cx="381.1" cy="410.8" r="2.75"/><circle cx="398.1" cy="411.7" r="2.75"/><circle cx="377.3" cy="413.2" r="2.75"/><circle cx="352.8" cy="413.2" r="2.75"/><circle cx="390.9" cy="413.4" r="2.75"/><circle cx="363.6" cy="414.9" r="2.75"/><circle cx="347.9" cy="417.5" r="2.75"/><circle cx="368.0" cy="417.6" r="2.75"/><circle cx="384.1" cy="417.8" r="2.75"/><circle cx="395.9" cy="417.2" r="2.75"/><circle cx="342.8" cy="419.3" r="2.75"/><circle cx="360.8" cy="419.6" r="2.75"/><circle cx="378.8" cy="419.3" r="2.75"/><circle cx="352.8" cy="420.6" r="2.75"/><circle cx="391.5" cy="422.0" r="2.75"/><circle cx="374.1" cy="423.4" r="2.75"/><circle cx="382.0" cy="425.7" r="2.75"/><circle cx="396.6" cy="425.7" r="2.75"/><circle cx="388.1" cy="427.2" r="2.75"/><circle cx="339.8" cy="427.4" r="2.75"/><circle cx="346.0" cy="427.6" r="2.75"/><circle cx="352.6" cy="428.4" r="2.75"/><circle cx="375.5" cy="430.1" r="2.75"/><circle cx="384.3" cy="431.6" r="2.75"/><circle cx="342.8" cy="432.9" r="2.75"/><circle cx="350.1" cy="432.4" r="2.75"/><circle cx="356.2" cy="433.3" r="2.75"/><circle cx="347.1" cy="435.0" r="2.75"/><circle cx="381.0" cy="435.0" r="2.75"/><circle cx="398.5" cy="434.5" r="2.75"/><circle cx="368.3" cy="435.8" r="2.75"/><circle cx="373.7" cy="437.3" r="2.75"/><circle cx="393.1" cy="437.5" r="2.75"/><circle cx="359.0" cy="438.9" r="2.75"/><circle cx="389.2" cy="442.2" r="2.75"/><circle cx="372.5" cy="445.4" r="2.75"/><circle cx="379.0" cy="446.0" r="2.75"/><circle cx="361.9" cy="446.6" r="2.75"/><circle cx="388.7" cy="446.8" r="2.75"/><circle cx="398.5" cy="447.2" r="2.75"/><circle cx="335.8" cy="447.7" r="2.75"/><circle cx="350.7" cy="448.8" r="2.75"/><circle cx="393.0" cy="448.5" r="2.75"/><circle cx="405.8" cy="402.0" r="2.75"/><circle cx="415.2" cy="403.9" r="2.75"/><circle cx="424.3" cy="405.6" r="2.75"/><circle cx="453.2" cy="406.4" r="2.75"/><circle cx="458.0" cy="405.1" r="2.75"/><circle cx="447.4" cy="407.7" r="2.75"/><circle cx="404.5" cy="409.0" r="2.75"/><circle cx="461.1" cy="409.3" r="2.75"/><circle cx="414.0" cy="410.8" r="2.75"/><circle cx="444.0" cy="410.7" r="2.75"/><circle cx="464.7" cy="411.3" r="2.75"/><circle cx="423.1" cy="413.0" r="2.75"/><circle cx="418.0" cy="414.1" r="2.75"/><circle cx="447.8" cy="414.1" r="2.75"/><circle cx="452.1" cy="413.2" r="2.75"/><circle cx="408.3" cy="415.9" r="2.75"/><circle cx="461.8" cy="416.2" r="2.75"/><circle cx="433.0" cy="417.2" r="2.75"/><circle cx="440.6" cy="417.8" r="2.75"/><circle cx="429.0" cy="418.9" r="2.75"/><circle cx="418.0" cy="419.3" r="2.75"/><circle cx="424.1" cy="419.7" r="2.75"/><circle cx="413.5" cy="420.6" r="2.75"/><circle cx="403.0" cy="421.7" r="2.75"/><circle cx="408.5" cy="421.9" r="2.75"/><circle cx="443.2" cy="424.2" r="2.75"/><circle cx="424.0" cy="425.2" r="2.75"/><circle cx="453.2" cy="426.3" r="2.75"/><circle cx="431.3" cy="426.3" r="2.75"/><circle cx="438.5" cy="426.3" r="2.75"/><circle cx="419.7" cy="427.4" r="2.75"/><circle cx="406.8" cy="428.5" r="2.75"/><circle cx="448.0" cy="428.8" r="2.75"/><circle cx="458.7" cy="428.6" r="2.75"/><circle cx="428.2" cy="429.5" r="2.75"/><circle cx="411.3" cy="430.1" r="2.75"/><circle cx="464.3" cy="429.6" r="2.75"/><circle cx="440.5" cy="431.0" r="2.75"/><circle cx="403.8" cy="431.6" r="2.75"/><circle cx="424.1" cy="432.2" r="2.75"/><circle cx="455.3" cy="432.3" r="2.75"/><circle cx="444.6" cy="433.3" r="2.75"/><circle cx="459.1" cy="435.0" r="2.75"/><circle cx="411.3" cy="435.2" r="2.75"/><circle cx="448.1" cy="437.3" r="2.75"/><circle cx="453.5" cy="437.9" r="2.75"/><circle cx="428.5" cy="437.3" r="2.75"/><circle cx="420.1" cy="438.1" r="2.75"/><circle cx="404.1" cy="439.6" r="2.75"/><circle cx="459.9" cy="439.6" r="2.75"/><circle cx="438.3" cy="442.2" r="2.75"/><circle cx="432.8" cy="443.2" r="2.75"/><circle cx="402.5" cy="444.7" r="2.75"/><circle cx="464.7" cy="443.0" r="2.75"/><circle cx="423.3" cy="445.4" r="2.75"/><circle cx="413.5" cy="446.6" r="2.75"/><circle cx="407.2" cy="446.8" r="2.75"/><circle cx="441.3" cy="447.9" r="2.75"/><circle cx="460.8" cy="448.3" r="2.75"/><circle cx="434.3" cy="448.9" r="2.75"/><circle cx="467.1" cy="350.7" r="2.75"/><circle cx="479.4" cy="352.4" r="2.75"/><circle cx="485.1" cy="353.7" r="2.75"/><circle cx="493.2" cy="352.4" r="2.75"/><circle cx="500.5" cy="352.0" r="2.75"/><circle cx="509.3" cy="353.1" r="2.75"/><circle cx="505.2" cy="355.8" r="2.75"/><circle cx="512.0" cy="356.4" r="2.75"/><circle cx="489.5" cy="356.6" r="2.75"/><circle cx="467.5" cy="357.7" r="2.75"/><circle cx="507.3" cy="359.3" r="2.75"/><circle cx="494.5" cy="359.6" r="2.75"/><circle cx="498.0" cy="362.1" r="2.75"/><circle cx="479.6" cy="360.4" r="2.75"/><circle cx="512.6" cy="362.7" r="2.75"/><circle cx="467.8" cy="364.7" r="2.75"/><circle cx="516.9" cy="365.5" r="2.75"/><circle cx="526.4" cy="365.8" r="2.75"/><circle cx="485.9" cy="366.2" r="2.75"/><circle cx="510.1" cy="368.0" r="2.75"/><circle cx="502.5" cy="368.6" r="2.75"/><circle cx="478.7" cy="368.9" r="2.75"/><circle cx="529.7" cy="370.6" r="2.75"/><circle cx="491.1" cy="372.0" r="2.75"/><circle cx="483.5" cy="373.0" r="2.75"/><circle cx="527.5" cy="374.6" r="2.75"/><circle cx="504.4" cy="375.4" r="2.75"/><circle cx="513.8" cy="375.7" r="2.75"/><circle cx="498.7" cy="375.7" r="2.75"/><circle cx="495.0" cy="375.7" r="2.75"/><circle cx="490.0" cy="376.3" r="2.75"/><circle cx="505.9" cy="379.6" r="2.75"/><circle cx="514.9" cy="380.7" r="2.75"/><circle cx="498.6" cy="381.0" r="2.75"/><circle cx="475.3" cy="383.0" r="2.75"/><circle cx="493.6" cy="384.4" r="2.75"/><circle cx="467.1" cy="384.7" r="2.75"/><circle cx="525.9" cy="384.7" r="2.75"/><circle cx="502.0" cy="385.8" r="2.75"/><circle cx="507.1" cy="386.9" r="2.75"/><circle cx="512.4" cy="386.9" r="2.75"/><circle cx="478.8" cy="387.5" r="2.75"/><circle cx="483.2" cy="389.2" r="2.75"/><circle cx="500.8" cy="390.5" r="2.75"/><circle cx="522.4" cy="390.7" r="2.75"/><circle cx="466.7" cy="392.2" r="2.75"/><circle cx="505.0" cy="393.3" r="2.75"/><circle cx="476.8" cy="394.4" r="2.75"/><circle cx="513.5" cy="394.3" r="2.75"/><circle cx="499.3" cy="395.0" r="2.75"/><circle cx="519.6" cy="395.1" r="2.75"/><circle cx="483.0" cy="396.0" r="2.75"/><circle cx="490.1" cy="395.8" r="2.75"/><circle cx="508.8" cy="396.8" r="2.75"/><circle cx="522.8" cy="398.3" r="2.75"/><circle cx="516.6" cy="398.8" r="2.75"/><circle cx="529.3" cy="398.5" r="2.75"/><circle cx="542.5" cy="352.6" r="2.75"/><circle cx="536.1" cy="352.0" r="2.75"/><circle cx="553.0" cy="351.5" r="2.75"/><circle cx="564.3" cy="352.8" r="2.75"/><circle cx="571.9" cy="351.4" r="2.75"/><circle cx="576.0" cy="353.4" r="2.75"/><circle cx="581.6" cy="351.5" r="2.75"/><circle cx="593.5" cy="352.0" r="2.75"/><circle cx="558.2" cy="354.5" r="2.75"/><circle cx="552.6" cy="355.8" r="2.75"/><circle cx="568.9" cy="355.3" r="2.75"/><circle cx="534.9" cy="358.1" r="2.75"/><circle cx="541.8" cy="358.7" r="2.75"/><circle cx="548.5" cy="359.8" r="2.75"/><circle cx="562.6" cy="357.9" r="2.75"/><circle cx="571.2" cy="358.1" r="2.75"/><circle cx="558.2" cy="360.0" r="2.75"/><circle cx="582.9" cy="358.1" r="2.75"/><circle cx="590.1" cy="357.5" r="2.75"/><circle cx="594.7" cy="358.3" r="2.75"/><circle cx="567.2" cy="362.1" r="2.75"/><circle cx="575.3" cy="363.0" r="2.75"/><circle cx="560.9" cy="363.8" r="2.75"/><circle cx="539.5" cy="363.8" r="2.75"/><circle cx="582.9" cy="363.8" r="2.75"/><circle cx="593.5" cy="364.7" r="2.75"/><circle cx="552.0" cy="365.5" r="2.75"/><circle cx="557.3" cy="366.4" r="2.75"/><circle cx="567.2" cy="367.2" r="2.75"/><circle cx="572.3" cy="366.8" r="2.75"/><circle cx="579.1" cy="366.8" r="2.75"/><circle cx="587.6" cy="365.9" r="2.75"/><circle cx="548.5" cy="368.5" r="2.75"/><circle cx="542.9" cy="369.1" r="2.75"/><circle cx="560.7" cy="369.7" r="2.75"/><circle cx="555.4" cy="369.3" r="2.75"/><circle cx="575.1" cy="369.7" r="2.75"/><circle cx="582.9" cy="369.7" r="2.75"/><circle cx="537.4" cy="370.6" r="2.75"/><circle cx="567.7" cy="371.4" r="2.75"/><circle cx="578.2" cy="371.9" r="2.75"/><circle cx="547.4" cy="373.5" r="2.75"/><circle cx="553.9" cy="374.4" r="2.75"/><circle cx="591.5" cy="373.5" r="2.75"/><circle cx="571.5" cy="375.1" r="2.75"/><circle cx="562.6" cy="376.1" r="2.75"/><circle cx="539.5" cy="376.8" r="2.75"/><circle cx="584.6" cy="376.8" r="2.75"/><circle cx="589.2" cy="378.2" r="2.75"/><circle cx="557.3" cy="378.6" r="2.75"/><circle cx="546.3" cy="379.6" r="2.75"/><circle cx="594.7" cy="376.1" r="2.75"/><circle cx="573.6" cy="381.6" r="2.75"/><circle cx="561.9" cy="382.3" r="2.75"/><circle cx="580.4" cy="382.6" r="2.75"/><circle cx="533.0" cy="385.0" r="2.75"/><circle cx="550.3" cy="385.0" r="2.75"/><circle cx="590.5" cy="385.2" r="2.75"/><circle cx="594.7" cy="384.1" r="2.75"/><circle cx="538.2" cy="387.5" r="2.75"/><circle cx="567.0" cy="387.9" r="2.75"/><circle cx="585.9" cy="388.4" r="2.75"/><circle cx="552.9" cy="389.5" r="2.75"/><circle cx="573.8" cy="389.5" r="2.75"/><circle cx="580.8" cy="390.3" r="2.75"/><circle cx="533.0" cy="392.8" r="2.75"/><circle cx="539.5" cy="392.8" r="2.75"/><circle cx="586.5" cy="392.6" r="2.75"/><circle cx="593.9" cy="392.2" r="2.75"/><circle cx="583.3" cy="394.7" r="2.75"/><circle cx="552.9" cy="395.1" r="2.75"/><circle cx="576.0" cy="396.4" r="2.75"/><circle cx="539.5" cy="398.1" r="2.75"/><circle cx="562.0" cy="398.8" r="2.75"/><circle cx="594.3" cy="397.7" r="2.75"/><circle cx="485.9" cy="400.5" r="2.75"/><circle cx="476.0" cy="403.7" r="2.75"/><circle cx="499.3" cy="402.6" r="2.75"/><circle cx="508.2" cy="402.2" r="2.75"/><circle cx="512.0" cy="402.4" r="2.75"/><circle cx="525.8" cy="403.9" r="2.75"/><circle cx="503.7" cy="405.1" r="2.75"/><circle cx="516.8" cy="405.8" r="2.75"/><circle cx="479.6" cy="409.2" r="2.75"/><circle cx="487.4" cy="409.2" r="2.75"/><circle cx="497.0" cy="409.3" r="2.75"/><circle cx="502.7" cy="410.2" r="2.75"/><circle cx="525.8" cy="409.6" r="2.75"/><circle cx="492.3" cy="415.2" r="2.75"/><circle cx="478.8" cy="415.7" r="2.75"/><circle cx="500.8" cy="415.9" r="2.75"/><circle cx="507.6" cy="415.9" r="2.75"/><circle cx="513.4" cy="417.0" r="2.75"/><circle cx="489.0" cy="420.2" r="2.75"/><circle cx="519.8" cy="420.3" r="2.75"/><circle cx="477.3" cy="422.5" r="2.75"/><circle cx="483.8" cy="422.9" r="2.75"/><circle cx="507.1" cy="422.7" r="2.75"/><circle cx="515.5" cy="422.9" r="2.75"/><circle cx="467.1" cy="425.2" r="2.75"/><circle cx="524.0" cy="426.3" r="2.75"/><circle cx="500.0" cy="427.2" r="2.75"/><circle cx="478.8" cy="428.5" r="2.75"/><circle cx="528.2" cy="429.5" r="2.75"/><circle cx="520.3" cy="431.4" r="2.75"/><circle cx="472.6" cy="432.3" r="2.75"/><circle cx="496.5" cy="432.3" r="2.75"/><circle cx="486.6" cy="433.7" r="2.75"/><circle cx="492.1" cy="433.9" r="2.75"/><circle cx="501.4" cy="434.0" r="2.75"/><circle cx="505.9" cy="435.2" r="2.75"/><circle cx="469.4" cy="435.8" r="2.75"/><circle cx="479.4" cy="435.6" r="2.75"/><circle cx="473.2" cy="438.9" r="2.75"/><circle cx="523.7" cy="439.4" r="2.75"/><circle cx="501.1" cy="439.5" r="2.75"/><circle cx="495.0" cy="440.2" r="2.75"/><circle cx="512.6" cy="441.6" r="2.75"/><circle cx="486.8" cy="442.2" r="2.75"/><circle cx="518.9" cy="442.2" r="2.75"/><circle cx="491.9" cy="443.4" r="2.75"/><circle cx="473.9" cy="445.1" r="2.75"/><circle cx="479.0" cy="445.1" r="2.75"/><circle cx="500.8" cy="446.6" r="2.75"/><circle cx="506.9" cy="446.4" r="2.75"/><circle cx="528.2" cy="446.4" r="2.75"/><circle cx="492.3" cy="448.1" r="2.75"/><circle cx="543.4" cy="401.1" r="2.75"/><circle cx="552.3" cy="401.1" r="2.75"/><circle cx="578.0" cy="401.1" r="2.75"/><circle cx="583.3" cy="402.2" r="2.75"/><circle cx="535.8" cy="403.9" r="2.75"/><circle cx="556.5" cy="405.3" r="2.75"/><circle cx="564.1" cy="405.6" r="2.75"/><circle cx="574.0" cy="406.2" r="2.75"/><circle cx="585.4" cy="406.4" r="2.75"/><circle cx="590.5" cy="406.8" r="2.75"/><circle cx="577.6" cy="407.7" r="2.75"/><circle cx="533.4" cy="408.3" r="2.75"/><circle cx="555.8" cy="409.0" r="2.75"/><circle cx="569.5" cy="409.6" r="2.75"/><circle cx="550.6" cy="410.7" r="2.75"/><circle cx="565.4" cy="412.5" r="2.75"/><circle cx="583.9" cy="413.4" r="2.75"/><circle cx="546.9" cy="414.4" r="2.75"/><circle cx="589.8" cy="415.1" r="2.75"/><circle cx="541.6" cy="415.8" r="2.75"/><circle cx="551.4" cy="416.2" r="2.75"/><circle cx="538.5" cy="417.6" r="2.75"/><circle cx="562.0" cy="416.8" r="2.75"/><circle cx="570.9" cy="417.5" r="2.75"/><circle cx="578.8" cy="418.7" r="2.75"/><circle cx="583.7" cy="419.6" r="2.75"/><circle cx="593.9" cy="418.9" r="2.75"/><circle cx="564.3" cy="421.4" r="2.75"/><circle cx="567.9" cy="421.7" r="2.75"/><circle cx="545.8" cy="423.1" r="2.75"/><circle cx="559.2" cy="423.5" r="2.75"/><circle cx="575.1" cy="424.0" r="2.75"/><circle cx="532.5" cy="425.4" r="2.75"/><circle cx="550.7" cy="426.1" r="2.75"/><circle cx="540.0" cy="426.8" r="2.75"/><circle cx="560.5" cy="427.6" r="2.75"/><circle cx="567.2" cy="427.8" r="2.75"/><circle cx="571.7" cy="428.2" r="2.75"/><circle cx="577.4" cy="427.6" r="2.75"/><circle cx="583.9" cy="428.2" r="2.75"/><circle cx="589.5" cy="428.0" r="2.75"/><circle cx="594.7" cy="425.7" r="2.75"/><circle cx="559.2" cy="433.1" r="2.75"/><circle cx="566.4" cy="432.9" r="2.75"/><circle cx="534.7" cy="434.4" r="2.75"/><circle cx="550.6" cy="435.0" r="2.75"/><circle cx="562.8" cy="437.3" r="2.75"/><circle cx="569.2" cy="437.8" r="2.75"/><circle cx="538.5" cy="438.8" r="2.75"/><circle cx="549.7" cy="440.7" r="2.75"/><circle cx="581.4" cy="440.2" r="2.75"/><circle cx="585.2" cy="441.6" r="2.75"/><circle cx="589.9" cy="441.6" r="2.75"/><circle cx="566.6" cy="442.0" r="2.75"/><circle cx="556.9" cy="443.2" r="2.75"/><circle cx="536.6" cy="444.3" r="2.75"/><circle cx="541.6" cy="444.0" r="2.75"/><circle cx="594.7" cy="440.5" r="2.75"/><circle cx="552.7" cy="445.8" r="2.75"/><circle cx="565.8" cy="447.5" r="2.75"/><circle cx="578.0" cy="447.9" r="2.75"/><circle cx="590.9" cy="447.2" r="2.75"/><circle cx="629.3" cy="351.1" r="2.75"/><circle cx="637.1" cy="352.6" r="2.75"/><circle cx="643.0" cy="353.1" r="2.75"/><circle cx="649.4" cy="353.1" r="2.75"/><circle cx="658.9" cy="353.7" r="2.75"/><circle cx="619.0" cy="353.7" r="2.75"/><circle cx="624.2" cy="353.9" r="2.75"/><circle cx="611.9" cy="354.9" r="2.75"/><circle cx="630.8" cy="355.8" r="2.75"/><circle cx="609.2" cy="357.5" r="2.75"/><circle cx="603.2" cy="359.0" r="2.75"/><circle cx="616.2" cy="358.7" r="2.75"/><circle cx="623.5" cy="359.6" r="2.75"/><circle cx="638.4" cy="358.3" r="2.75"/><circle cx="650.0" cy="358.7" r="2.75"/><circle cx="613.2" cy="361.7" r="2.75"/><circle cx="600.2" cy="364.2" r="2.75"/><circle cx="620.0" cy="363.6" r="2.75"/><circle cx="636.3" cy="363.6" r="2.75"/><circle cx="652.0" cy="364.1" r="2.75"/><circle cx="631.8" cy="365.3" r="2.75"/><circle cx="606.0" cy="367.0" r="2.75"/><circle cx="611.5" cy="366.5" r="2.75"/><circle cx="626.3" cy="367.5" r="2.75"/><circle cx="643.2" cy="367.0" r="2.75"/><circle cx="648.3" cy="367.6" r="2.75"/><circle cx="616.2" cy="368.6" r="2.75"/><circle cx="637.6" cy="368.9" r="2.75"/><circle cx="620.8" cy="369.7" r="2.75"/><circle cx="598.4" cy="370.0" r="2.75"/><circle cx="623.5" cy="373.0" r="2.75"/><circle cx="630.0" cy="373.4" r="2.75"/><circle cx="644.8" cy="373.1" r="2.75"/><circle cx="603.9" cy="373.8" r="2.75"/><circle cx="611.7" cy="374.8" r="2.75"/><circle cx="616.6" cy="375.1" r="2.75"/><circle cx="659.7" cy="374.4" r="2.75"/><circle cx="605.3" cy="377.8" r="2.75"/><circle cx="625.2" cy="377.8" r="2.75"/><circle cx="639.9" cy="378.5" r="2.75"/><circle cx="600.2" cy="379.7" r="2.75"/><circle cx="631.6" cy="380.1" r="2.75"/><circle cx="645.8" cy="380.3" r="2.75"/><circle cx="659.7" cy="379.5" r="2.75"/><circle cx="607.4" cy="383.1" r="2.75"/><circle cx="621.4" cy="383.3" r="2.75"/><circle cx="648.3" cy="383.3" r="2.75"/><circle cx="616.8" cy="385.6" r="2.75"/><circle cx="629.5" cy="385.6" r="2.75"/><circle cx="642.8" cy="385.6" r="2.75"/><circle cx="604.7" cy="389.0" r="2.75"/><circle cx="610.1" cy="388.6" r="2.75"/><circle cx="632.2" cy="390.6" r="2.75"/><circle cx="613.8" cy="392.2" r="2.75"/><circle cx="609.0" cy="394.4" r="2.75"/><circle cx="626.9" cy="394.4" r="2.75"/><circle cx="655.1" cy="396.6" r="2.75"/><circle cx="636.3" cy="397.7" r="2.75"/><circle cx="621.2" cy="398.8" r="2.75"/><circle cx="650.9" cy="398.9" r="2.75"/><circle cx="670.2" cy="352.0" r="2.75"/><circle cx="674.6" cy="353.7" r="2.75"/><circle cx="688.8" cy="349.8" r="2.75"/><circle cx="695.8" cy="352.4" r="2.75"/><circle cx="700.2" cy="351.4" r="2.75"/><circle cx="705.3" cy="351.4" r="2.75"/><circle cx="709.9" cy="353.7" r="2.75"/><circle cx="715.4" cy="353.7" r="2.75"/><circle cx="723.1" cy="355.8" r="2.75"/><circle cx="685.0" cy="358.1" r="2.75"/><circle cx="692.6" cy="357.5" r="2.75"/><circle cx="700.5" cy="358.3" r="2.75"/><circle cx="709.8" cy="358.7" r="2.75"/><circle cx="715.9" cy="358.5" r="2.75"/><circle cx="673.5" cy="359.6" r="2.75"/><circle cx="666.8" cy="360.8" r="2.75"/><circle cx="695.4" cy="362.5" r="2.75"/><circle cx="705.7" cy="361.9" r="2.75"/><circle cx="712.5" cy="362.5" r="2.75"/><circle cx="685.4" cy="364.1" r="2.75"/><circle cx="717.6" cy="365.1" r="2.75"/><circle cx="722.6" cy="364.2" r="2.75"/><circle cx="693.9" cy="366.5" r="2.75"/><circle cx="707.8" cy="365.5" r="2.75"/><circle cx="669.3" cy="367.6" r="2.75"/><circle cx="703.6" cy="368.3" r="2.75"/><circle cx="721.6" cy="369.7" r="2.75"/><circle cx="685.1" cy="370.6" r="2.75"/><circle cx="697.7" cy="372.0" r="2.75"/><circle cx="718.0" cy="374.0" r="2.75"/><circle cx="671.0" cy="373.8" r="2.75"/><circle cx="665.8" cy="375.1" r="2.75"/><circle cx="681.8" cy="376.5" r="2.75"/><circle cx="693.7" cy="376.5" r="2.75"/><circle cx="701.3" cy="377.1" r="2.75"/><circle cx="673.8" cy="378.4" r="2.75"/><circle cx="688.4" cy="378.2" r="2.75"/><circle cx="678.0" cy="379.0" r="2.75"/><circle cx="683.7" cy="380.1" r="2.75"/><circle cx="723.5" cy="380.3" r="2.75"/><circle cx="693.3" cy="381.8" r="2.75"/><circle cx="688.4" cy="384.1" r="2.75"/><circle cx="675.1" cy="384.1" r="2.75"/><circle cx="716.9" cy="385.0" r="2.75"/><circle cx="670.2" cy="385.8" r="2.75"/><circle cx="678.8" cy="387.8" r="2.75"/><circle cx="685.8" cy="388.4" r="2.75"/><circle cx="697.5" cy="390.0" r="2.75"/><circle cx="674.0" cy="390.5" r="2.75"/><circle cx="715.0" cy="390.5" r="2.75"/><circle cx="663.8" cy="391.1" r="2.75"/><circle cx="710.8" cy="391.7" r="2.75"/><circle cx="687.5" cy="392.3" r="2.75"/><circle cx="721.6" cy="392.2" r="2.75"/><circle cx="680.1" cy="394.3" r="2.75"/><circle cx="701.5" cy="395.1" r="2.75"/><circle cx="698.1" cy="396.8" r="2.75"/><circle cx="717.1" cy="396.1" r="2.75"/><circle cx="663.0" cy="396.8" r="2.75"/><circle cx="709.9" cy="397.9" r="2.75"/><circle cx="675.1" cy="398.5" r="2.75"/><circle cx="598.2" cy="401.1" r="2.75"/><circle cx="598.8" cy="405.6" r="2.75"/><circle cx="601.8" cy="409.6" r="2.75"/><circle cx="626.9" cy="402.6" r="2.75"/><circle cx="632.0" cy="402.2" r="2.75"/><circle cx="640.7" cy="401.5" r="2.75"/><circle cx="659.7" cy="402.8" r="2.75"/><circle cx="622.8" cy="407.2" r="2.75"/><circle cx="628.6" cy="407.2" r="2.75"/><circle cx="609.4" cy="407.9" r="2.75"/><circle cx="637.3" cy="408.5" r="2.75"/><circle cx="646.8" cy="409.0" r="2.75"/><circle cx="617.9" cy="411.7" r="2.75"/><circle cx="653.0" cy="411.9" r="2.75"/><circle cx="607.9" cy="413.6" r="2.75"/><circle cx="612.5" cy="413.4" r="2.75"/><circle cx="623.5" cy="414.1" r="2.75"/><circle cx="647.6" cy="414.7" r="2.75"/><circle cx="639.6" cy="415.1" r="2.75"/><circle cx="617.2" cy="416.4" r="2.75"/><circle cx="636.2" cy="417.6" r="2.75"/><circle cx="659.1" cy="418.3" r="2.75"/><circle cx="654.2" cy="423.1" r="2.75"/><circle cx="622.9" cy="423.5" r="2.75"/><circle cx="617.3" cy="425.5" r="2.75"/><circle cx="644.3" cy="426.1" r="2.75"/><circle cx="656.6" cy="427.1" r="2.75"/><circle cx="613.0" cy="427.8" r="2.75"/><circle cx="646.4" cy="430.1" r="2.75"/><circle cx="601.3" cy="435.6" r="2.75"/><circle cx="607.4" cy="435.8" r="2.75"/><circle cx="612.5" cy="436.2" r="2.75"/><circle cx="649.6" cy="436.2" r="2.75"/><circle cx="645.8" cy="438.6" r="2.75"/><circle cx="603.7" cy="440.3" r="2.75"/><circle cx="622.8" cy="440.2" r="2.75"/><circle cx="652.6" cy="440.2" r="2.75"/><circle cx="641.0" cy="443.2" r="2.75"/><circle cx="607.4" cy="444.5" r="2.75"/><circle cx="650.0" cy="444.3" r="2.75"/><circle cx="625.0" cy="446.6" r="2.75"/><circle cx="597.1" cy="447.1" r="2.75"/><circle cx="658.1" cy="448.5" r="2.75"/><circle cx="666.9" cy="402.6" r="2.75"/><circle cx="713.3" cy="401.4" r="2.75"/><circle cx="708.5" cy="403.9" r="2.75"/><circle cx="674.2" cy="405.1" r="2.75"/><circle cx="678.5" cy="407.9" r="2.75"/><circle cx="720.9" cy="407.5" r="2.75"/><circle cx="708.1" cy="408.5" r="2.75"/><circle cx="674.6" cy="411.3" r="2.75"/><circle cx="682.9" cy="413.0" r="2.75"/><circle cx="671.3" cy="416.8" r="2.75"/><circle cx="684.0" cy="418.3" r="2.75"/><circle cx="674.4" cy="419.7" r="2.75"/><circle cx="719.1" cy="424.2" r="2.75"/><circle cx="722.9" cy="428.0" r="2.75"/><circle cx="675.1" cy="432.9" r="2.75"/><circle cx="667.8" cy="434.5" r="2.75"/><circle cx="707.0" cy="436.0" r="2.75"/><circle cx="670.8" cy="438.8" r="2.75"/><circle cx="688.6" cy="440.2" r="2.75"/><circle cx="663.4" cy="441.3" r="2.75"/><circle cx="721.5" cy="442.8" r="2.75"/><circle cx="698.9" cy="444.7" r="2.75"/><circle cx="668.0" cy="448.5" r="2.75"/><circle cx="706.0" cy="448.8" r="2.75"/><circle cx="177.1" cy="452.4" r="2.75"/><circle cx="181.3" cy="453.9" r="2.75"/><circle cx="100.4" cy="456.4" r="2.75"/><circle cx="145.6" cy="456.1" r="2.75"/><circle cx="142.4" cy="459.5" r="2.75"/><circle cx="167.3" cy="456.4" r="2.75"/><circle cx="199.1" cy="456.4" r="2.75"/><circle cx="169.8" cy="474.4" r="2.75"/><circle cx="127.8" cy="478.1" r="2.75"/><circle cx="121.9" cy="479.3" r="2.75"/><circle cx="111.9" cy="481.0" r="2.75"/><circle cx="139.8" cy="480.1" r="2.75"/><circle cx="116.5" cy="483.7" r="2.75"/><circle cx="180.3" cy="482.8" r="2.75"/><circle cx="157.4" cy="486.6" r="2.75"/><circle cx="124.6" cy="489.4" r="2.75"/><circle cx="139.8" cy="492.1" r="2.75"/><circle cx="166.1" cy="495.0" r="2.75"/><circle cx="86.5" cy="495.0" r="2.75"/><circle cx="324.7" cy="450.7" r="2.75"/><circle cx="304.9" cy="456.4" r="2.75"/><circle cx="236.8" cy="459.5" r="2.75"/><circle cx="277.8" cy="459.5" r="2.75"/><circle cx="257.1" cy="462.0" r="2.75"/><circle cx="289.1" cy="462.0" r="2.75"/><circle cx="260.9" cy="466.2" r="2.75"/><circle cx="316.2" cy="466.2" r="2.75"/><circle cx="277.8" cy="469.1" r="2.75"/><circle cx="310.8" cy="471.3" r="2.75"/><circle cx="306.9" cy="473.5" r="2.75"/><circle cx="251.5" cy="474.4" r="2.75"/><circle cx="316.7" cy="476.1" r="2.75"/><circle cx="213.1" cy="479.8" r="2.75"/><circle cx="242.7" cy="479.8" r="2.75"/><circle cx="257.8" cy="479.8" r="2.75"/><circle cx="276.4" cy="479.3" r="2.75"/><circle cx="283.4" cy="479.3" r="2.75"/><circle cx="313.3" cy="483.2" r="2.75"/><circle cx="302.0" cy="489.1" r="2.75"/><circle cx="313.8" cy="489.1" r="2.75"/><circle cx="318.9" cy="487.7" r="2.75"/><circle cx="325.5" cy="489.1" r="2.75"/><circle cx="318.9" cy="494.2" r="2.75"/><circle cx="212.1" cy="495.0" r="2.75"/><circle cx="280.7" cy="495.0" r="2.75"/><circle cx="290.1" cy="497.9" r="2.75"/><circle cx="247.8" cy="500.6" r="2.75"/><circle cx="334.5" cy="478.9" r="2.75"/><circle cx="363.4" cy="452.4" r="2.75"/><circle cx="372.6" cy="450.7" r="2.75"/><circle cx="383.8" cy="453.9" r="2.75"/><circle cx="410.3" cy="452.4" r="2.75"/><circle cx="420.5" cy="450.7" r="2.75"/><circle cx="335.0" cy="455.2" r="2.75"/><circle cx="346.8" cy="456.4" r="2.75"/><circle cx="399.3" cy="456.1" r="2.75"/><circle cx="424.7" cy="456.4" r="2.75"/><circle cx="444.7" cy="455.2" r="2.75"/><circle cx="339.2" cy="462.0" r="2.75"/><circle cx="360.9" cy="461.7" r="2.75"/><circle cx="358.7" cy="465.9" r="2.75"/><circle cx="390.5" cy="460.0" r="2.75"/><circle cx="398.5" cy="460.7" r="2.75"/><circle cx="387.5" cy="463.7" r="2.75"/><circle cx="433.7" cy="460.7" r="2.75"/><circle cx="438.3" cy="463.4" r="2.75"/><circle cx="446.2" cy="464.9" r="2.75"/><circle cx="458.2" cy="459.5" r="2.75"/><circle cx="411.7" cy="467.6" r="2.75"/><circle cx="405.8" cy="470.5" r="2.75"/><circle cx="396.3" cy="471.7" r="2.75"/><circle cx="398.8" cy="474.7" r="2.75"/><circle cx="378.7" cy="471.7" r="2.75"/><circle cx="363.4" cy="471.7" r="2.75"/><circle cx="441.3" cy="471.0" r="2.75"/><circle cx="458.6" cy="471.3" r="2.75"/><circle cx="459.4" cy="476.1" r="2.75"/><circle cx="351.9" cy="478.9" r="2.75"/><circle cx="343.8" cy="483.5" r="2.75"/><circle cx="375.6" cy="483.5" r="2.75"/><circle cx="408.6" cy="482.8" r="2.75"/><circle cx="416.2" cy="485.7" r="2.75"/><circle cx="434.5" cy="479.3" r="2.75"/><circle cx="450.1" cy="478.9" r="2.75"/><circle cx="453.0" cy="478.9" r="2.75"/><circle cx="457.4" cy="482.3" r="2.75"/><circle cx="379.3" cy="488.6" r="2.75"/><circle cx="358.7" cy="492.1" r="2.75"/><circle cx="384.9" cy="492.1" r="2.75"/><circle cx="399.3" cy="492.1" r="2.75"/><circle cx="406.1" cy="494.2" r="2.75"/><circle cx="421.3" cy="492.1" r="2.75"/><circle cx="432.8" cy="491.3" r="2.75"/><circle cx="441.6" cy="492.1" r="2.75"/><circle cx="459.1" cy="491.3" r="2.75"/><circle cx="463.6" cy="494.2" r="2.75"/><circle cx="387.8" cy="497.2" r="2.75"/><circle cx="391.7" cy="500.1" r="2.75"/><circle cx="370.0" cy="500.1" r="2.75"/><circle cx="430.6" cy="498.4" r="2.75"/><circle cx="450.1" cy="501.8" r="2.75"/><circle cx="479.7" cy="450.5" r="2.75"/><circle cx="498.9" cy="451.9" r="2.75"/><circle cx="534.9" cy="451.0" r="2.75"/><circle cx="540.0" cy="451.0" r="2.75"/><circle cx="553.9" cy="451.3" r="2.75"/><circle cx="559.8" cy="451.3" r="2.75"/><circle cx="511.2" cy="453.9" r="2.75"/><circle cx="498.3" cy="455.7" r="2.75"/><circle cx="495.0" cy="456.9" r="2.75"/><circle cx="520.9" cy="458.1" r="2.75"/><circle cx="584.8" cy="458.3" r="2.75"/><circle cx="473.8" cy="459.8" r="2.75"/><circle cx="480.2" cy="459.8" r="2.75"/><circle cx="467.5" cy="462.0" r="2.75"/><circle cx="488.4" cy="463.7" r="2.75"/><circle cx="494.6" cy="463.7" r="2.75"/><circle cx="498.9" cy="465.9" r="2.75"/><circle cx="520.9" cy="463.7" r="2.75"/><circle cx="553.9" cy="462.5" r="2.75"/><circle cx="563.7" cy="463.2" r="2.75"/><circle cx="589.8" cy="463.4" r="2.75"/><circle cx="507.8" cy="467.1" r="2.75"/><circle cx="541.7" cy="468.8" r="2.75"/><circle cx="588.1" cy="468.3" r="2.75"/><circle cx="593.6" cy="465.9" r="2.75"/><circle cx="590.3" cy="471.3" r="2.75"/><circle cx="476.0" cy="473.0" r="2.75"/><circle cx="481.1" cy="474.7" r="2.75"/><circle cx="493.8" cy="474.7" r="2.75"/><circle cx="526.8" cy="473.9" r="2.75"/><circle cx="580.6" cy="474.7" r="2.75"/><circle cx="506.8" cy="476.4" r="2.75"/><circle cx="475.2" cy="479.4" r="2.75"/><circle cx="538.3" cy="478.9" r="2.75"/><circle cx="558.4" cy="479.8" r="2.75"/><circle cx="533.9" cy="483.7" r="2.75"/><circle cx="575.5" cy="482.8" r="2.75"/><circle cx="488.7" cy="486.9" r="2.75"/><circle cx="473.0" cy="491.3" r="2.75"/><circle cx="573.8" cy="494.2" r="2.75"/><circle cx="496.3" cy="498.4" r="2.75"/><circle cx="475.2" cy="499.2" r="2.75"/><circle cx="488.2" cy="502.6" r="2.75"/><circle cx="605.2" cy="453.0" r="2.75"/><circle cx="609.4" cy="454.7" r="2.75"/><circle cx="667.3" cy="456.1" r="2.75"/><circle cx="682.2" cy="455.6" r="2.75"/><circle cx="710.1" cy="455.7" r="2.75"/><circle cx="635.6" cy="463.2" r="2.75"/><circle cx="642.4" cy="464.5" r="2.75"/><circle cx="675.7" cy="465.9" r="2.75"/><circle cx="691.5" cy="467.1" r="2.75"/><circle cx="666.9" cy="469.6" r="2.75"/><circle cx="705.4" cy="472.5" r="2.75"/><circle cx="686.7" cy="479.8" r="2.75"/><circle cx="677.1" cy="485.7" r="2.75"/><circle cx="605.2" cy="486.6" r="2.75"/><circle cx="639.3" cy="498.7" r="2.75"/><circle cx="664.9" cy="498.9" r="2.75"/><circle cx="648.8" cy="500.1" r="2.75"/><circle cx="607.4" cy="500.6" r="2.75"/></g>
<path d="M74.5 142.2C78.8 142.8 91.9 144.4 100.4 145.6C109.0 146.8 117.3 148.1 125.8 149.5C134.3 150.9 142.8 152.5 151.3 154.2C159.8 155.9 170.2 158.3 176.7 159.8C183.1 161.3 184.1 161.4 190.0 163.2C195.9 165.0 204.6 168.0 211.9 170.7C219.2 173.4 226.5 176.2 233.8 179.2C241.1 182.2 248.4 185.2 255.7 188.6C263.0 192.0 271.4 196.2 277.6 199.6C283.8 203.0 288.2 205.6 292.9 209.0C297.6 212.4 302.0 215.7 306.0 219.9C310.0 224.1 313.9 229.3 316.8 234.2C319.7 239.1 321.8 244.4 323.4 249.5C324.9 254.6 325.8 260.5 326.1 264.5C326.4 268.5 326.2 269.9 325.3 273.5C324.4 277.1 322.8 282.0 320.8 286.3C318.8 290.6 316.3 295.4 313.4 299.4C310.4 303.4 307.2 306.6 303.1 310.4C299.0 314.2 293.9 318.6 288.5 322.4C283.1 326.2 277.6 329.8 271.0 333.4C264.4 337.0 256.4 341.0 249.1 344.3C241.8 347.6 234.1 350.5 227.2 353.1C220.3 355.7 213.7 358.1 207.5 360.1C201.3 362.1 196.5 363.5 190.0 365.3C183.5 367.1 177.6 368.8 168.5 370.8C159.4 372.9 146.6 375.6 135.7 377.6C124.7 379.7 113.0 381.6 102.8 383.1C92.6 384.6 79.2 386.2 74.5 386.8" fill="none" stroke="#0c0c0c" stroke-width="3.7" transform="translate(0.5,0.9)"/>
<path d="M74.5 142.2C78.8 142.8 91.9 144.4 100.4 145.6C109.0 146.8 117.3 148.1 125.8 149.5C134.3 150.9 142.8 152.5 151.3 154.2C159.8 155.9 170.2 158.3 176.7 159.8C183.1 161.3 184.1 161.4 190.0 163.2C195.9 165.0 204.6 168.0 211.9 170.7C219.2 173.4 226.5 176.2 233.8 179.2C241.1 182.2 248.4 185.2 255.7 188.6C263.0 192.0 271.4 196.2 277.6 199.6C283.8 203.0 288.2 205.6 292.9 209.0C297.6 212.4 302.0 215.7 306.0 219.9C310.0 224.1 313.9 229.3 316.8 234.2C319.7 239.1 321.8 244.4 323.4 249.5C324.9 254.6 325.8 260.5 326.1 264.5C326.4 268.5 326.2 269.9 325.3 273.5C324.4 277.1 322.8 282.0 320.8 286.3C318.8 290.6 316.3 295.4 313.4 299.4C310.4 303.4 307.2 306.6 303.1 310.4C299.0 314.2 293.9 318.6 288.5 322.4C283.1 326.2 277.6 329.8 271.0 333.4C264.4 337.0 256.4 341.0 249.1 344.3C241.8 347.6 234.1 350.5 227.2 353.1C220.3 355.7 213.7 358.1 207.5 360.1C201.3 362.1 196.5 363.5 190.0 365.3C183.5 367.1 177.6 368.8 168.5 370.8C159.4 372.9 146.6 375.6 135.7 377.6C124.7 379.7 113.0 381.6 102.8 383.1C92.6 384.6 79.2 386.2 74.5 386.8" fill="none" stroke="#4cec8c" stroke-width="3.5" stroke-dasharray="11.58 2.1" stroke-dashoffset="3.6"/>
<circle cx="352.7" cy="253.6" r="6.9" fill="#f80008" stroke="#fff" stroke-width="1.5"/>
</g>
<g fill="#fff">
<text x="83.8" y="28.9" font-size="16.2" fill="#4a2a26" stroke="#4a2a26" stroke-width="0.4" transform="translate(1,1)" textLength="24.7" lengthAdjust="spacingAndGlyphs">HOT</text>
<text x="83.8" y="28.9" font-size="16.2" stroke="#fff" stroke-width="0.4" textLength="24.7" lengthAdjust="spacingAndGlyphs">HOT</text>
<text x="675.8" y="30.1" font-size="16.2" fill="#77704a" stroke="#77704a" stroke-width="0.4" transform="translate(1,1)" textLength="39.5" lengthAdjust="spacingAndGlyphs">WARM</text>
<text x="675.8" y="30.1" font-size="16.2" stroke="#fff" stroke-width="0.4" textLength="39.5" lengthAdjust="spacingAndGlyphs">WARM</text>

<text x="51.1" y="65" font-size="19.8" textLength="18.3" lengthAdjust="spacingAndGlyphs">20</text>
<text x="52.2" y="134.2" font-size="19.4" textLength="17.1" lengthAdjust="spacingAndGlyphs">10</text>
<text x="60" y="257" font-size="18.8" textLength="9" lengthAdjust="spacingAndGlyphs">5</text>
<text x="59.6" y="458.5" font-size="18.8" textLength="9" lengthAdjust="spacingAndGlyphs">1</text>
<text x="46.7" y="509.8" font-size="18.8" textLength="21.8" lengthAdjust="spacingAndGlyphs">0.7</text>

<text x="75.76" y="536.40" font-size="19.00" textLength="7.01" lengthAdjust="spacingAndGlyphs" stroke="#fff" stroke-width="0.25">1</text><text x="89.64" y="536.40" font-size="19.00" textLength="48.95" lengthAdjust="spacingAndGlyphs" stroke="#fff" stroke-width="0.25">Million</text><text x="142.64" y="536.40" font-size="19.00" textLength="33.56" lengthAdjust="spacingAndGlyphs" stroke="#fff" stroke-width="0.25">Miles</text><text x="333.52" y="536.40" font-size="19.00" textLength="18.24" lengthAdjust="spacingAndGlyphs" stroke="#fff" stroke-width="0.25">10</text><text x="357.42" y="536.40" font-size="19.00" textLength="47.82" lengthAdjust="spacingAndGlyphs" stroke="#fff" stroke-width="0.25">Million</text><text x="409.52" y="536.40" font-size="19.00" textLength="34.39" lengthAdjust="spacingAndGlyphs" stroke="#fff" stroke-width="0.25">Miles</text><text x="602.86" y="536.40" font-size="19.00" textLength="26.69" lengthAdjust="spacingAndGlyphs" stroke="#fff" stroke-width="0.25">100</text><text x="634.74" y="536.40" font-size="19.00" textLength="48.90" lengthAdjust="spacingAndGlyphs" stroke="#fff" stroke-width="0.25">Million</text><text x="687.98" y="536.40" font-size="19.00" textLength="33.48" lengthAdjust="spacingAndGlyphs" stroke="#fff" stroke-width="0.25">Miles</text>
<text x="309" y="583.1" font-size="21.8" textLength="160.4" lengthAdjust="spacingAndGlyphs" stroke="#fff" stroke-width="0.6">Distance from Star</text>
<text transform="translate(34.10,393.40) rotate(-90)" font-size="22.00" textLength="81.50" lengthAdjust="spacingAndGlyphs" stroke="#fff" stroke-width="0.35">Planetary</text><text transform="translate(34.10,307.70) rotate(-90)" font-size="22.00" textLength="59.70" lengthAdjust="spacingAndGlyphs" stroke="#fff" stroke-width="0.35">Radius</text><text transform="translate(34.10,243.60) rotate(-90)" font-size="22.00" textLength="56.60" lengthAdjust="spacingAndGlyphs" stroke="#fff" stroke-width="0.35">(Earth</text><text transform="translate(34.10,180.50) rotate(-90)" font-size="22.00" textLength="13.50" lengthAdjust="spacingAndGlyphs" stroke="#fff" stroke-width="0.35">=</text><text transform="translate(34.10,165.10) rotate(-90)" font-size="22.00" textLength="19.00" lengthAdjust="spacingAndGlyphs" stroke="#fff" stroke-width="0.35">1)</text>

<g font-size="25.2" text-anchor="middle" stroke-width="0.9">
<g fill="#1a0c0a" stroke="#1a0c0a" transform="translate(1.3,1.5)">
<text x="161.4" y="225.6" textLength="34.5" lengthAdjust="spacingAndGlyphs">Hot</text>
<text x="161.4" y="260.2" textLength="86.6" lengthAdjust="spacingAndGlyphs">Neptune</text>
<text x="161.4" y="295" textLength="67.5" lengthAdjust="spacingAndGlyphs">Desert</text>
</g>
<g stroke="#fff">
<text x="161.4" y="225.6" textLength="34.5" lengthAdjust="spacingAndGlyphs">Hot</text>
<text x="161.4" y="260.2" textLength="86.6" lengthAdjust="spacingAndGlyphs">Neptune</text>
<text x="161.4" y="295" textLength="67.5" lengthAdjust="spacingAndGlyphs">Desert</text>
</g>
</g>
<g font-size="23.5" font-weight="bold">
<text x="309.4" y="236.3" fill="#1a0c0a" transform="translate(1.5,1.6)" textLength="80.2" lengthAdjust="spacingAndGlyphs">GJ3470b</text>
<text x="309.4" y="236.3" textLength="80.2" lengthAdjust="spacingAndGlyphs">GJ3470b</text>
</g>
</g>
</svg>
</body></html>
